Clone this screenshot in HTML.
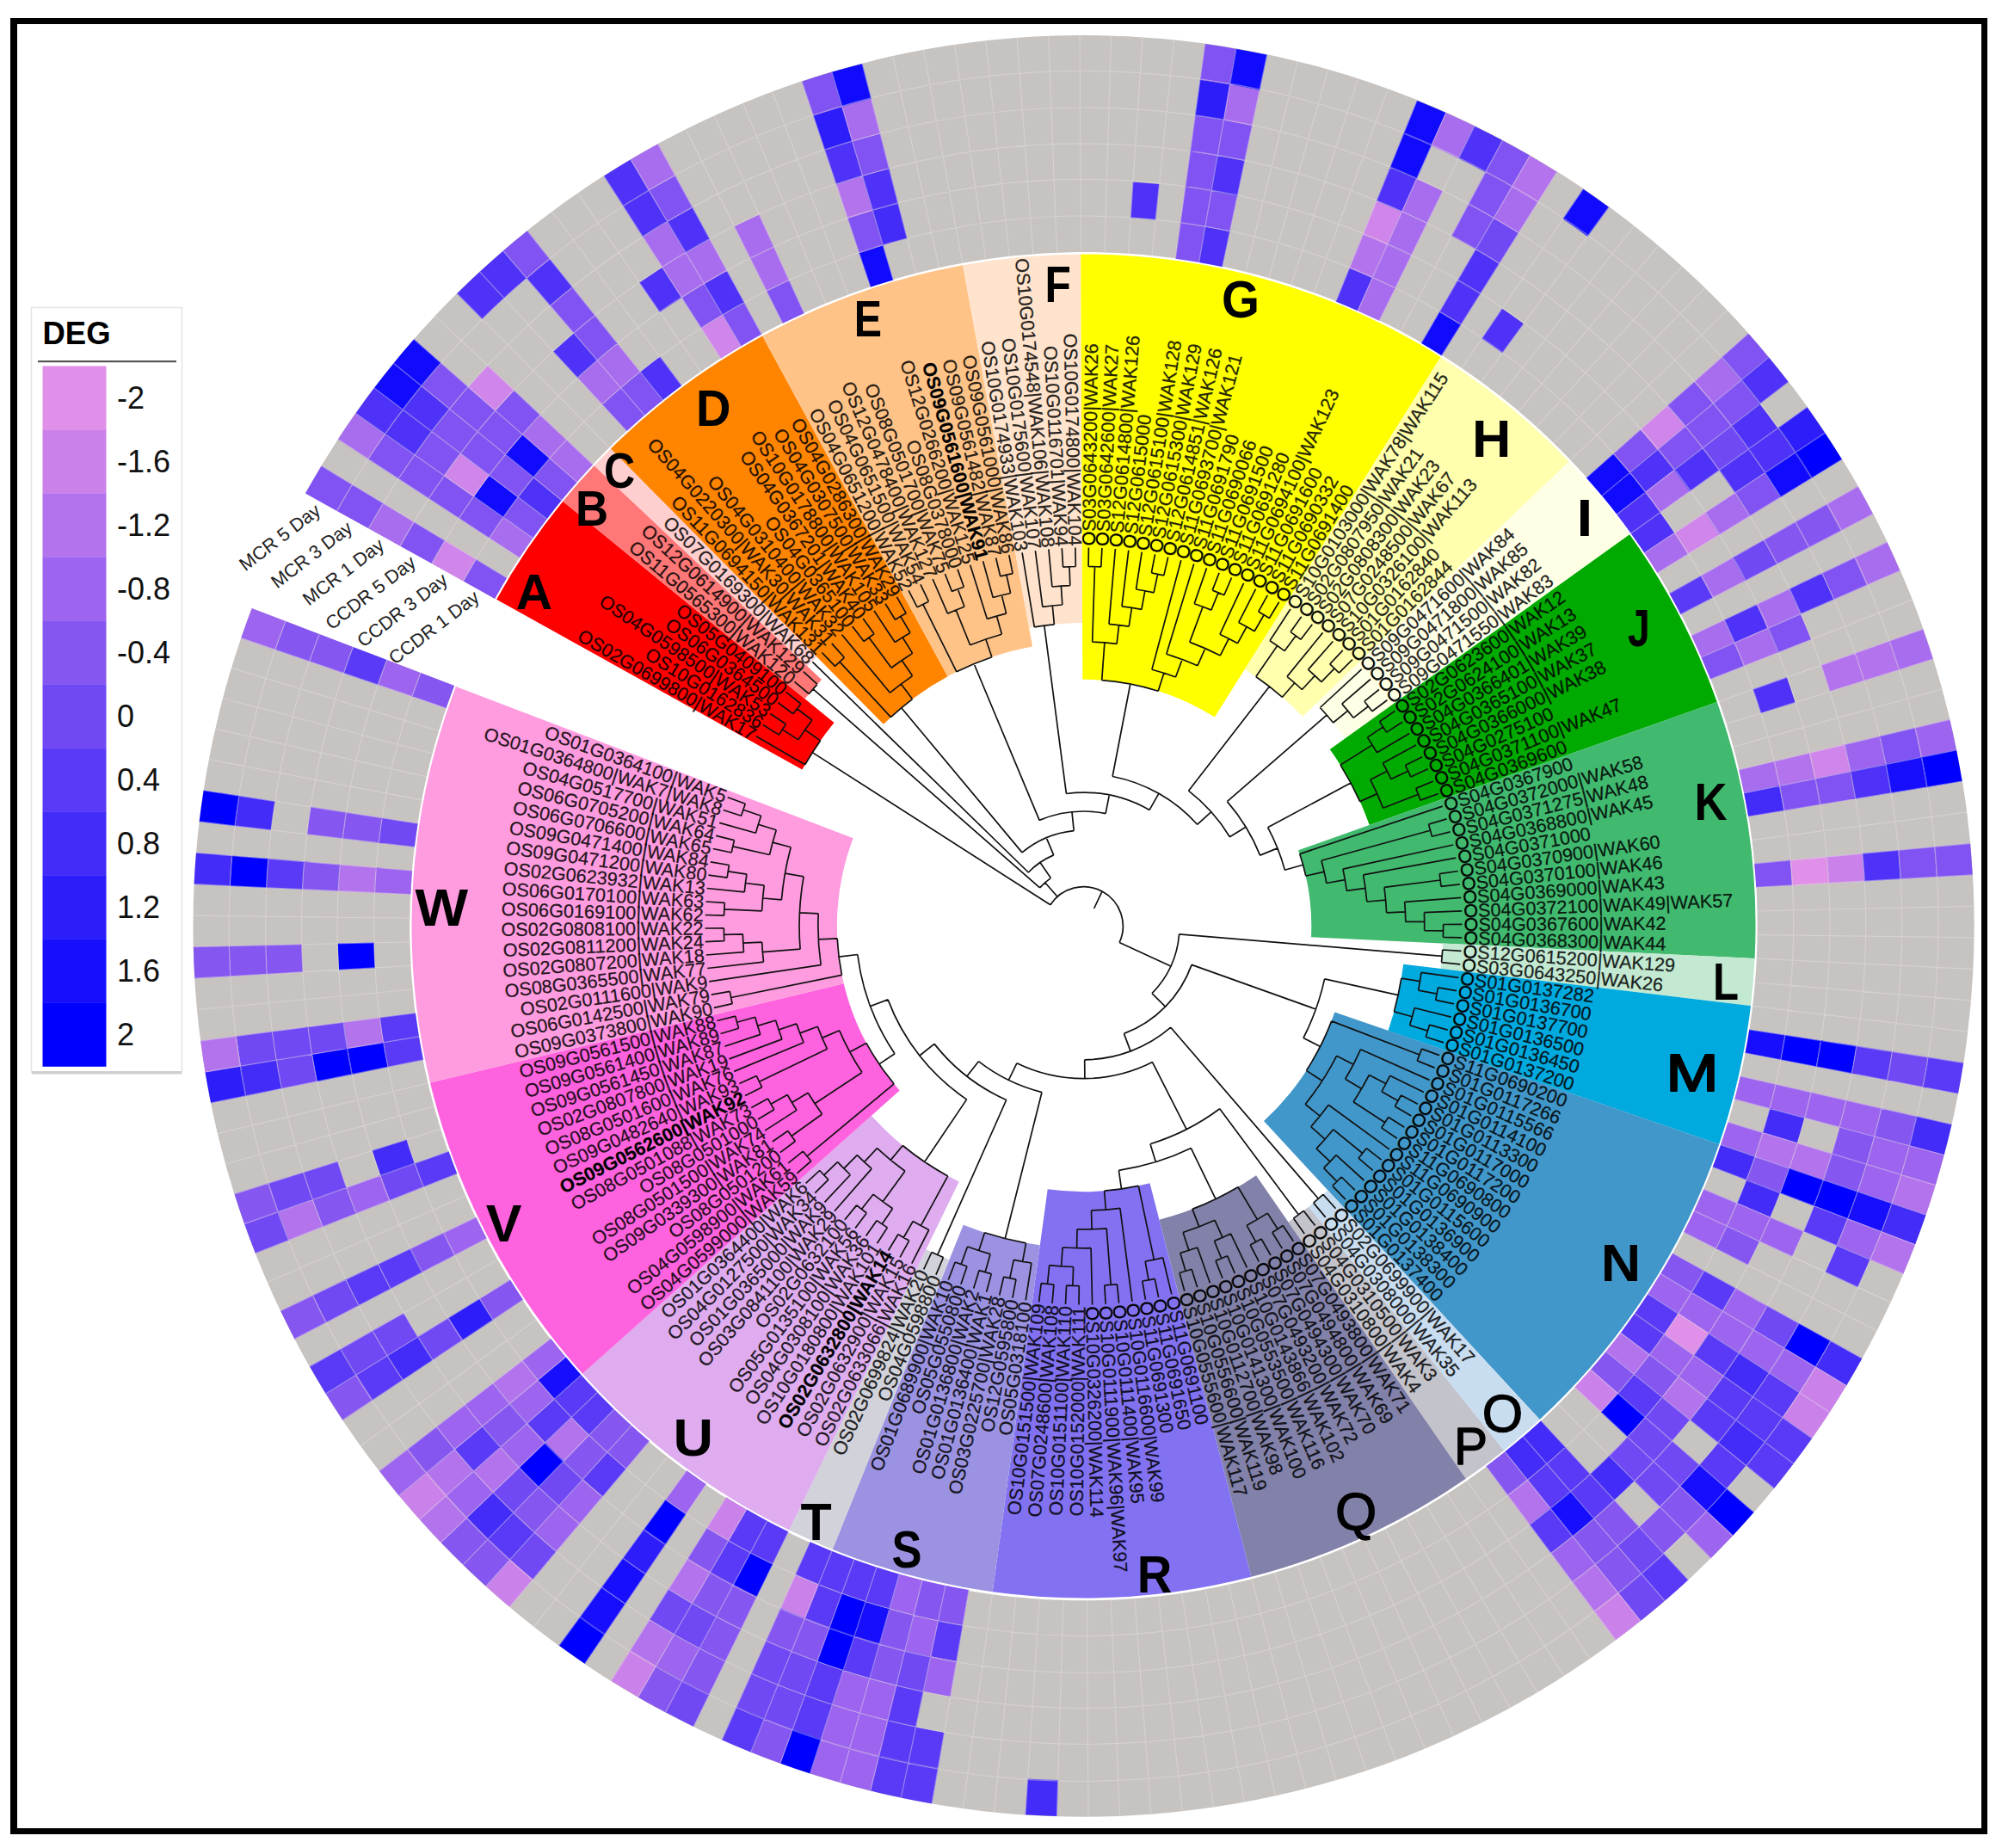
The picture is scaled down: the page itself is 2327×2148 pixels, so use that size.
<!DOCTYPE html>
<html><head><meta charset="utf-8"><title>WAK phylogeny heatmap</title>
<style>html,body{margin:0;padding:0;background:#fff}svg{display:block}</style></head>
<body>
<svg xmlns="http://www.w3.org/2000/svg" width="2327" height="2148" viewBox="0 0 2327 2148">
<rect width="2327" height="2148" fill="#fff"/>
<g shape-rendering="geometricPrecision">
<path d="M355.1 573.1A1035 1035 0 0 1 2197.6 1513.7L1969.2 1407.3A783 783 0 0 0 575.3 695.7Z" fill="#C7C3C1"/>
<path d="M2197.7 1513.6A1035 1035 0 0 1 292.6 707.3L528 797.2A783 783 0 0 0 1969.3 1407.2Z" fill="#C7C3C1"/>
<path d="M538.5 675.5A825 825 0 0 1 553.4 649.8L589.3 671.6A783 783 0 0 0 575.2 695.9Z" fill="#8153F2"/>
<path d="M501.8 655.1A867 867 0 0 1 517.4 628.1L553.4 649.8A825 825 0 0 0 538.5 675.5Z" fill="#CF85EA"/>
<path d="M465.1 634.7A909 909 0 0 1 481.5 606.4L517.4 628.1A867 867 0 0 0 501.8 655.1Z" fill="#8153F2"/>
<path d="M428.4 614.3A951 951 0 0 1 445.5 584.7L481.5 606.4A909 909 0 0 0 465.1 634.7Z" fill="#A86CEE"/>
<path d="M391.7 593.9A993 993 0 0 1 409.6 563L445.5 584.7A951 951 0 0 0 428.4 614.3Z" fill="#8153F2"/>
<path d="M355 573.5A1035 1035 0 0 1 373.7 541.2L409.6 563A993 993 0 0 0 391.7 593.9Z" fill="#8153F2"/>
<path d="M568.6 625.7A825 825 0 0 1 585.2 601.1L619.6 625.3A783 783 0 0 0 603.7 648.6Z" fill="#A86CEE"/>
<path d="M533.4 602.7A867 867 0 0 1 550.9 576.9L585.2 601.1A825 825 0 0 0 568.6 625.7Z" fill="#8153F2"/>
<path d="M498.2 579.8A909 909 0 0 1 516.6 552.7L550.9 576.9A867 867 0 0 0 533.4 602.7Z" fill="#8153F2"/>
<path d="M463 556.8A951 951 0 0 1 482.3 528.5L516.6 552.7A909 909 0 0 0 498.2 579.8Z" fill="#8153F2"/>
<path d="M427.9 533.9A993 993 0 0 1 447.9 504.3L482.3 528.5A951 951 0 0 0 463 556.8Z" fill="#8153F2"/>
<path d="M392.7 510.9A1035 1035 0 0 1 413.6 480.1L447.9 504.3A993 993 0 0 0 427.9 533.9Z" fill="#A86CEE"/>
<path d="M584.9 601.6A825 825 0 0 1 602.4 577.6L635.9 603A783 783 0 0 0 619.2 625.8Z" fill="#8153F2"/>
<path d="M550.6 577.4A867 867 0 0 1 569 552.2L602.4 577.6A825 825 0 0 0 584.9 601.6Z" fill="#110BFD"/>
<path d="M516.2 553.2A909 909 0 0 1 535.5 526.8L569 552.2A867 867 0 0 0 550.6 577.4Z" fill="#CF85EA"/>
<path d="M481.9 529.1A951 951 0 0 1 502.1 501.4L535.5 526.8A909 909 0 0 0 516.2 553.2Z" fill="#8153F2"/>
<path d="M447.5 504.9A993 993 0 0 1 468.6 476L502.1 501.4A951 951 0 0 0 481.9 529.1Z" fill="#4E32F7"/>
<path d="M413.2 480.7A1035 1035 0 0 1 435.2 450.6L468.6 476A993 993 0 0 0 447.5 504.9Z" fill="#4E32F7"/>
<path d="M602.1 578.1A825 825 0 0 1 620.4 554.8L653 581.3A783 783 0 0 0 635.5 603.5Z" fill="#4E32F7"/>
<path d="M568.6 552.7A867 867 0 0 1 587.9 528.2L620.4 554.8A825 825 0 0 0 602.1 578.1Z" fill="#8153F2"/>
<path d="M535.1 527.3A909 909 0 0 1 555.4 501.6L587.9 528.2A867 867 0 0 0 568.6 552.7Z" fill="#8153F2"/>
<path d="M501.7 502A951 951 0 0 1 522.8 475.1L555.4 501.6A909 909 0 0 0 535.1 527.3Z" fill="#8153F2"/>
<path d="M468.2 476.6A993 993 0 0 1 490.3 448.5L522.8 475.1A951 951 0 0 0 501.7 502Z" fill="#4E32F7"/>
<path d="M434.7 451.2A1035 1035 0 0 1 457.8 421.9L490.3 448.5A993 993 0 0 0 468.2 476.6Z" fill="#110BFD"/>
<path d="M620.1 555.2A825 825 0 0 1 639.2 532.5L670.8 560.2A783 783 0 0 0 652.6 581.7Z" fill="#8153F2"/>
<path d="M587.5 528.7A867 867 0 0 1 607.7 504.8L639.2 532.5A825 825 0 0 0 620.1 555.2Z" fill="#110BFD"/>
<path d="M555 502.1A909 909 0 0 1 576.1 477.1L607.7 504.8A867 867 0 0 0 587.5 528.7Z" fill="#8153F2"/>
<path d="M522.4 475.6A951 951 0 0 1 544.5 449.4L576.1 477.1A909 909 0 0 0 555 502.1Z" fill="#8153F2"/>
<path d="M489.9 449A993 993 0 0 1 512.9 421.8L544.5 449.4A951 951 0 0 0 522.4 475.6Z" fill="#8153F2"/>
<path d="M457.3 422.5A1035 1035 0 0 1 481.4 394.1L512.9 421.8A993 993 0 0 0 489.9 449Z" fill="#110BFD"/>
<path d="M638.9 533A825 825 0 0 1 658.8 511L689.4 539.8A783 783 0 0 0 670.5 560.6Z" fill="#A86CEE"/>
<path d="M607.3 505.3A867 867 0 0 1 628.2 482.2L658.8 511A825 825 0 0 0 638.9 533Z" fill="#A86CEE"/>
<path d="M575.7 477.6A909 909 0 0 1 597.7 453.4L628.2 482.2A867 867 0 0 0 607.3 505.3Z" fill="#8153F2"/>
<path d="M544.1 449.9A951 951 0 0 1 567.1 424.6L597.7 453.4A909 909 0 0 0 575.7 477.6Z" fill="#CF85EA"/>
<path d="M530.9 341.4A1035 1035 0 0 1 557.8 315.7L586.3 346.5A993 993 0 0 0 560.5 371.2Z" fill="#4E32F7"/>
<path d="M699.8 470.4A825 825 0 0 1 721.9 450.7L749.3 482.5A783 783 0 0 0 728.3 501.3Z" fill="#8153F2"/>
<path d="M671.3 439.6A867 867 0 0 1 694.6 418.8L721.9 450.7A825 825 0 0 0 699.8 470.4Z" fill="#A86CEE"/>
<path d="M642.8 408.7A909 909 0 0 1 667.2 387L694.6 418.8A867 867 0 0 0 671.3 439.6Z" fill="#4E32F7"/>
<path d="M557.3 316.2A1035 1035 0 0 1 585.1 291.4L612.5 323.2A993 993 0 0 0 585.8 347Z" fill="#4E32F7"/>
<path d="M721.5 451.1A825 825 0 0 1 744.4 432.1L770.6 464.9A783 783 0 0 0 748.9 482.9Z" fill="#8153F2"/>
<path d="M694.1 419.2A867 867 0 0 1 718.1 399.3L744.4 432.1A825 825 0 0 0 721.5 451.1Z" fill="#A86CEE"/>
<path d="M666.7 387.4A909 909 0 0 1 691.9 366.5L718.1 399.3A867 867 0 0 0 694.1 419.2Z" fill="#8153F2"/>
<path d="M639.3 355.5A951 951 0 0 1 665.7 333.7L691.9 366.5A909 909 0 0 0 666.7 387.4Z" fill="#8153F2"/>
<path d="M611.9 323.7A993 993 0 0 1 639.4 300.9L665.7 333.7A951 951 0 0 0 639.3 355.5Z" fill="#4E32F7"/>
<path d="M584.6 291.8A1035 1035 0 0 1 613.2 268.1L639.4 300.9A993 993 0 0 0 611.9 323.7Z" fill="#8153F2"/>
<path d="M743.9 432.5A825 825 0 0 1 767.4 414.3L792.5 448A783 783 0 0 0 770.2 465.3Z" fill="#4E32F7"/>
<path d="M742.9 328.6A909 909 0 0 1 770.1 310.5L792.7 345.9A867 867 0 0 0 766.7 363.2Z" fill="#4E32F7"/>
<path d="M814.8 381.6A825 825 0 0 1 840.1 366L861.5 402.2A783 783 0 0 0 837.5 417Z" fill="#CF85EA"/>
<path d="M792.2 346.2A867 867 0 0 1 818.8 329.9L840.1 366A825 825 0 0 0 814.8 381.6Z" fill="#8153F2"/>
<path d="M769.6 310.8A909 909 0 0 1 797.4 293.7L818.8 329.9A867 867 0 0 0 792.2 346.2Z" fill="#A86CEE"/>
<path d="M746.9 275.5A951 951 0 0 1 776.1 257.5L797.4 293.7A909 909 0 0 0 769.6 310.8Z" fill="#A86CEE"/>
<path d="M724.3 240.1A993 993 0 0 1 754.7 221.4L776.1 257.5A951 951 0 0 0 746.9 275.5Z" fill="#4E32F7"/>
<path d="M701.7 204.7A1035 1035 0 0 1 733.4 185.2L754.7 221.4A993 993 0 0 0 724.3 240.1Z" fill="#4E32F7"/>
<path d="M839.6 366.3A825 825 0 0 1 865.5 351.7L885.5 388.6A783 783 0 0 0 861 402.5Z" fill="#8153F2"/>
<path d="M818.3 330.2A867 867 0 0 1 845.4 314.8L865.5 351.7A825 825 0 0 0 839.6 366.3Z" fill="#4E32F7"/>
<path d="M796.9 294A909 909 0 0 1 825.3 277.9L845.4 314.8A867 867 0 0 0 818.3 330.2Z" fill="#A86CEE"/>
<path d="M775.5 257.9A951 951 0 0 1 805.3 241L825.3 277.9A909 909 0 0 0 796.9 294Z" fill="#4E32F7"/>
<path d="M754.1 221.7A993 993 0 0 1 785.2 204.1L805.3 241A951 951 0 0 0 775.5 257.9Z" fill="#8153F2"/>
<path d="M732.8 185.6A1035 1035 0 0 1 765.2 167.2L785.2 204.1A993 993 0 0 0 754.1 221.7Z" fill="#A86CEE"/>
<path d="M890.8 338.5A825 825 0 0 1 917.5 325.7L935 363.9A783 783 0 0 0 909.5 376.1Z" fill="#8153F2"/>
<path d="M872 300.9A867 867 0 0 1 900.1 287.5L917.5 325.7A825 825 0 0 0 890.8 338.5Z" fill="#A86CEE"/>
<path d="M853.2 263.3A909 909 0 0 1 882.7 249.3L900.1 287.5A867 867 0 0 0 872 300.9Z" fill="#A86CEE"/>
<path d="M998.3 294A825 825 0 0 1 1026.6 285.1L1038.4 325.4A783 783 0 0 0 1011.6 333.8Z" fill="#110BFD"/>
<path d="M985 254.1A867 867 0 0 1 1014.7 244.8L1026.6 285.1A825 825 0 0 0 998.3 294Z" fill="#8153F2"/>
<path d="M971.7 214.3A909 909 0 0 1 1002.9 204.5L1014.7 244.8A867 867 0 0 0 985 254.1Z" fill="#B373ED"/>
<path d="M958.4 174.4A951 951 0 0 1 991 164.2L1002.9 204.5A909 909 0 0 0 971.7 214.3Z" fill="#4E32F7"/>
<path d="M945.1 134.6A993 993 0 0 1 979.1 123.9L991 164.2A951 951 0 0 0 958.4 174.4Z" fill="#2D1DFA"/>
<path d="M931.8 94.8A1035 1035 0 0 1 967.3 83.6L979.1 123.9A993 993 0 0 0 945.1 134.6Z" fill="#8153F2"/>
<path d="M1014.1 244.9A867 867 0 0 1 1044.2 236.7L1054.6 277.3A825 825 0 0 0 1026 285.2Z" fill="#432BF8"/>
<path d="M1002.2 204.7A909 909 0 0 1 1033.8 196L1044.2 236.7A867 867 0 0 0 1014.1 244.9Z" fill="#4E32F7"/>
<path d="M990.4 164.4A951 951 0 0 1 1023.4 155.3L1033.8 196A909 909 0 0 0 1002.2 204.7Z" fill="#8153F2"/>
<path d="M978.5 124.1A993 993 0 0 1 1012.9 114.6L1023.4 155.3A951 951 0 0 0 990.4 164.4Z" fill="#A86CEE"/>
<path d="M966.6 83.8A1035 1035 0 0 1 1002.5 73.9L1012.9 114.6A993 993 0 0 0 978.5 124.1Z" fill="#110BFD"/>
<path d="M1316.6 211.4A867 867 0 0 1 1347.7 214L1343.5 255.8A825 825 0 0 0 1313.9 253.3Z" fill="#4E32F7"/>
<path d="M1371.8 259.2A825 825 0 0 1 1401.1 263.7L1393.9 305.1A783 783 0 0 0 1366.1 300.8Z" fill="#8153F2"/>
<path d="M1377.5 217.6A867 867 0 0 1 1408.3 222.4L1401.1 263.7A825 825 0 0 0 1371.8 259.2Z" fill="#8153F2"/>
<path d="M1383.2 176A909 909 0 0 1 1415.5 181L1408.3 222.4A867 867 0 0 0 1377.5 217.6Z" fill="#8153F2"/>
<path d="M1388.9 134.3A951 951 0 0 1 1422.7 139.6L1415.5 181A909 909 0 0 0 1383.2 176Z" fill="#8153F2"/>
<path d="M1394.7 92.7A993 993 0 0 1 1430 98.2L1422.7 139.6A951 951 0 0 0 1388.9 134.3Z" fill="#2D1DFA"/>
<path d="M1400.4 51.1A1035 1035 0 0 1 1437.2 56.9L1430 98.2A993 993 0 0 0 1394.7 92.7Z" fill="#8153F2"/>
<path d="M1400.6 263.6A825 825 0 0 1 1429.7 269.2L1421 310.3A783 783 0 0 0 1393.4 305Z" fill="#4E32F7"/>
<path d="M1407.7 222.3A867 867 0 0 1 1438.4 228.2L1429.7 269.2A825 825 0 0 0 1400.6 263.6Z" fill="#8153F2"/>
<path d="M1414.9 180.9A909 909 0 0 1 1447 187.1L1438.4 228.2A867 867 0 0 0 1407.7 222.3Z" fill="#4E32F7"/>
<path d="M1422.1 139.5A951 951 0 0 1 1455.7 146L1447 187.1A909 909 0 0 0 1414.9 180.9Z" fill="#8153F2"/>
<path d="M1429.3 98.1A993 993 0 0 1 1464.4 104.9L1455.7 146A951 951 0 0 0 1422.1 139.5Z" fill="#A86CEE"/>
<path d="M1436.5 56.7A1035 1035 0 0 1 1473 63.8L1464.4 104.9A993 993 0 0 0 1429.3 98.1Z" fill="#110BFD"/>
<path d="M1568.2 311.4A825 825 0 0 1 1595.5 323L1578.4 361.4A783 783 0 0 0 1552.5 350.4Z" fill="#4E32F7"/>
<path d="M1583.9 272.5A867 867 0 0 1 1612.7 284.7L1595.5 323A825 825 0 0 0 1568.2 311.4Z" fill="#B373ED"/>
<path d="M1599.7 233.5A909 909 0 0 1 1629.8 246.3L1612.7 284.7A867 867 0 0 0 1583.9 272.5Z" fill="#CF85EA"/>
<path d="M1615.4 194.6A951 951 0 0 1 1646.9 208L1629.8 246.3A909 909 0 0 0 1599.7 233.5Z" fill="#4E32F7"/>
<path d="M1631.1 155.6A993 993 0 0 1 1664 169.6L1646.9 208A951 951 0 0 0 1615.4 194.6Z" fill="#110BFD"/>
<path d="M1646.8 116.7A1035 1035 0 0 1 1681.1 131.3L1664 169.6A993 993 0 0 0 1631.1 155.6Z" fill="#110BFD"/>
<path d="M1595 322.8A825 825 0 0 1 1621.9 335.4L1603.5 373.1A783 783 0 0 0 1577.9 361.2Z" fill="#A86CEE"/>
<path d="M1612.1 284.4A867 867 0 0 1 1640.4 297.6L1621.9 335.4A825 825 0 0 0 1595 322.8Z" fill="#A86CEE"/>
<path d="M1629.2 246.1A909 909 0 0 1 1658.8 259.9L1640.4 297.6A867 867 0 0 0 1612.1 284.4Z" fill="#A86CEE"/>
<path d="M1646.3 207.7A951 951 0 0 1 1677.3 222.2L1658.8 259.9A909 909 0 0 0 1629.2 246.1Z" fill="#A86CEE"/>
<path d="M1680.4 131A1035 1035 0 0 1 1714.2 146.7L1695.7 184.4A993 993 0 0 0 1663.3 169.3Z" fill="#A86CEE"/>
<path d="M1713.5 146.4A1035 1035 0 0 1 1746.7 163.3L1726.9 200.4A993 993 0 0 0 1695.1 184.1Z" fill="#4E32F7"/>
<path d="M1706.6 237.1A951 951 0 0 1 1736.5 253.8L1715.4 290.1A909 909 0 0 0 1686.8 274.2Z" fill="#8153F2"/>
<path d="M1726.3 200.1A993 993 0 0 1 1757.5 217.4L1736.5 253.8A951 951 0 0 0 1706.6 237.1Z" fill="#8153F2"/>
<path d="M1746.1 163A1035 1035 0 0 1 1778.6 181.1L1757.5 217.4A993 993 0 0 0 1726.3 200.1Z" fill="#8153F2"/>
<path d="M1672.8 362.5A825 825 0 0 1 1698.2 377.8L1675.9 413.4A783 783 0 0 0 1651.7 398.8Z" fill="#110BFD"/>
<path d="M1693.8 326.1A867 867 0 0 1 1720.5 342.2L1698.2 377.8A825 825 0 0 0 1672.8 362.5Z" fill="#4E32F7"/>
<path d="M1714.9 289.8A909 909 0 0 1 1742.9 306.7L1720.5 342.2A867 867 0 0 0 1693.8 326.1Z" fill="#4E32F7"/>
<path d="M1735.9 253.4A951 951 0 0 1 1765.2 271.1L1742.9 306.7A909 909 0 0 0 1714.9 289.8Z" fill="#7048F4"/>
<path d="M1756.9 217.1A993 993 0 0 1 1787.5 235.5L1765.2 271.1A951 951 0 0 0 1735.9 253.4Z" fill="#A86CEE"/>
<path d="M1778 180.7A1035 1035 0 0 1 1809.9 200L1787.5 235.5A993 993 0 0 0 1756.9 217.1Z" fill="#B373ED"/>
<path d="M1745.7 358.6A867 867 0 0 1 1771.2 376.6L1746.4 410.5A825 825 0 0 0 1722.1 393.4Z" fill="#4E32F7"/>
<path d="M1839.9 219.5A1035 1035 0 0 1 1870.3 241L1845.5 274.9A993 993 0 0 0 1816.3 254.3Z" fill="#110BFD"/>
<path d="M1875.1 527.2A825 825 0 0 1 1894.4 549.8L1862.1 576.6A783 783 0 0 0 1843.7 555.2Z" fill="#110BFD"/>
<path d="M1906.4 499.3A867 867 0 0 1 1926.8 522.9L1894.4 549.8A825 825 0 0 0 1875.1 527.2Z" fill="#8153F2"/>
<path d="M1937.8 471.3A909 909 0 0 1 1959.1 496.1L1926.8 522.9A867 867 0 0 0 1906.4 499.3Z" fill="#CF85EA"/>
<path d="M1969.1 443.4A951 951 0 0 1 1991.4 469.3L1959.1 496.1A909 909 0 0 0 1937.8 471.3Z" fill="#8153F2"/>
<path d="M2000.4 415.4A993 993 0 0 1 2023.7 442.5L1991.4 469.3A951 951 0 0 0 1969.1 443.4Z" fill="#A86CEE"/>
<path d="M2031.8 387.4A1035 1035 0 0 1 2056.1 415.7L2023.7 442.5A993 993 0 0 0 2000.4 415.4Z" fill="#8153F2"/>
<path d="M1894.1 549.3A825 825 0 0 1 1912.6 572.5L1879.4 598.1A783 783 0 0 0 1861.8 576.1Z" fill="#110BFD"/>
<path d="M1926.4 522.5A867 867 0 0 1 1945.9 546.8L1912.6 572.5A825 825 0 0 0 1894.1 549.3Z" fill="#4E32F7"/>
<path d="M1958.7 495.6A909 909 0 0 1 1979.1 521.2L1945.9 546.8A867 867 0 0 0 1926.4 522.5Z" fill="#8153F2"/>
<path d="M1991 468.8A951 951 0 0 1 2012.4 495.5L1979.1 521.2A909 909 0 0 0 1958.7 495.6Z" fill="#8153F2"/>
<path d="M2023.3 442A993 993 0 0 1 2045.6 469.8L2012.4 495.5A951 951 0 0 0 1991 468.8Z" fill="#8153F2"/>
<path d="M2055.6 415.1A1035 1035 0 0 1 2078.9 444.2L2045.6 469.8A993 993 0 0 0 2023.3 442Z" fill="#4E32F7"/>
<path d="M1912.3 572A825 825 0 0 1 1930 595.8L1895.9 620.3A783 783 0 0 0 1879.1 597.7Z" fill="#4E32F7"/>
<path d="M1945.5 546.3A867 867 0 0 1 1964.1 571.4L1930 595.8A825 825 0 0 0 1912.3 572Z" fill="#A86CEE"/>
<path d="M1978.8 520.7A909 909 0 0 1 1998.3 546.9L1964.1 571.4A867 867 0 0 0 1945.5 546.3Z" fill="#4E32F7"/>
<path d="M2012 495A951 951 0 0 1 2032.4 522.4L1998.3 546.9A909 909 0 0 0 1978.8 520.7Z" fill="#7048F4"/>
<path d="M2045.2 469.3A993 993 0 0 1 2066.6 498L2032.4 522.4A951 951 0 0 0 2012 495Z" fill="#4E32F7"/>
<path d="M1929.7 595.4A825 825 0 0 1 1946.6 619.8L1911.6 643A783 783 0 0 0 1895.6 619.9Z" fill="#4E32F7"/>
<path d="M2032 521.9A951 951 0 0 1 2051.5 550L2016.5 573.3A909 909 0 0 0 1997.9 546.4Z" fill="#4E32F7"/>
<path d="M2066.1 497.4A993 993 0 0 1 2086.5 526.8L2051.5 550A951 951 0 0 0 2032 521.9Z" fill="#4E32F7"/>
<path d="M2100.3 472.9A1035 1035 0 0 1 2121.4 503.5L2086.5 526.8A993 993 0 0 0 2066.1 497.4Z" fill="#2D1DFA"/>
<path d="M1946.2 619.3A825 825 0 0 1 1962.2 644.3L1926.5 666.3A783 783 0 0 0 1911.3 642.6Z" fill="#A86CEE"/>
<path d="M1981.2 596A867 867 0 0 1 1998 622.3L1962.2 644.3A825 825 0 0 0 1946.2 619.3Z" fill="#CF85EA"/>
<path d="M2016.2 572.8A909 909 0 0 1 2033.8 600.3L1998 622.3A867 867 0 0 0 1981.2 596Z" fill="#A86CEE"/>
<path d="M2051.1 549.5A951 951 0 0 1 2069.6 578.3L2033.8 600.3A909 909 0 0 0 2016.2 572.8Z" fill="#8153F2"/>
<path d="M2086.1 526.2A993 993 0 0 1 2105.3 556.3L2069.6 578.3A951 951 0 0 0 2051.1 549.5Z" fill="#110BFD"/>
<path d="M2121 502.9A1035 1035 0 0 1 2141.1 534.3L2105.3 556.3A993 993 0 0 0 2086.1 526.2Z" fill="#0000FF"/>
<path d="M1976.8 668.9A825 825 0 0 1 1991 694.9L1953.7 714.4A783 783 0 0 0 1940.2 689.6Z" fill="#5A3AF6"/>
<path d="M2013.3 648.1A867 867 0 0 1 2028.2 675.5L1991 694.9A825 825 0 0 0 1976.8 668.9Z" fill="#A86CEE"/>
<path d="M2049.8 627.4A909 909 0 0 1 2065.4 656.1L2028.2 675.5A867 867 0 0 0 2013.3 648.1Z" fill="#7048F4"/>
<path d="M2086.3 606.6A951 951 0 0 1 2102.7 636.7L2065.4 656.1A909 909 0 0 0 2049.8 627.4Z" fill="#8656F1"/>
<path d="M2122.8 585.9A993 993 0 0 1 2139.9 617.2L2102.7 636.7A951 951 0 0 0 2086.3 606.6Z" fill="#8656F1"/>
<path d="M2159.3 565.1A1035 1035 0 0 1 2177.2 597.8L2139.9 617.2A993 993 0 0 0 2122.8 585.9Z" fill="#A86CEE"/>
<path d="M2003.7 720.5A825 825 0 0 1 2016.1 747.5L1977.5 764.2A783 783 0 0 0 1965.8 738.6Z" fill="#A86CEE"/>
<path d="M2041.6 702.3A867 867 0 0 1 2054.6 730.7L2016.1 747.5A825 825 0 0 0 2003.7 720.5Z" fill="#4E32F7"/>
<path d="M2079.5 684.2A909 909 0 0 1 2093.1 714L2054.6 730.7A867 867 0 0 0 2041.6 702.3Z" fill="#A86CEE"/>
<path d="M2117.4 666.1A951 951 0 0 1 2131.6 697.2L2093.1 714A909 909 0 0 0 2079.5 684.2Z" fill="#4E32F7"/>
<path d="M2155.3 648A993 993 0 0 1 2170.1 680.5L2131.6 697.2A951 951 0 0 0 2117.4 666.1Z" fill="#8153F2"/>
<path d="M2193.2 629.8A1035 1035 0 0 1 2208.6 663.7L2170.1 680.5A993 993 0 0 0 2155.3 648Z" fill="#A86CEE"/>
<path d="M2015.8 746.9A825 825 0 0 1 2027.2 774.4L1988.1 789.8A783 783 0 0 0 1977.3 763.7Z" fill="#8153F2"/>
<path d="M2054.3 730.2A867 867 0 0 1 2066.3 759L2027.2 774.4A825 825 0 0 0 2015.8 746.9Z" fill="#A86CEE"/>
<path d="M2092.8 713.4A909 909 0 0 1 2105.4 743.6L2066.3 759A867 867 0 0 0 2054.3 730.2Z" fill="#8153F2"/>
<path d="M2076.8 787.1A867 867 0 0 1 2086.7 816.7L2046.6 829.3A825 825 0 0 0 2037.2 801.1Z" fill="#4E32F7"/>
<path d="M2155.9 759A951 951 0 0 1 2166.8 791.5L2126.7 804.1A909 909 0 0 0 2116.4 773.1Z" fill="#B373ED"/>
<path d="M2195.5 745A993 993 0 0 1 2206.9 778.9L2166.8 791.5A951 951 0 0 0 2155.9 759Z" fill="#B373ED"/>
<path d="M2235.1 731A1035 1035 0 0 1 2246.9 766.3L2206.9 778.9A993 993 0 0 0 2195.5 745Z" fill="#A86CEE"/>
<path d="M2061.9 884.8A825 825 0 0 1 2068.3 913.8L2027.1 922.1A783 783 0 0 0 2021.1 894.6Z" fill="#A86CEE"/>
<path d="M2102.8 875.1A867 867 0 0 1 2109.5 905.5L2068.3 913.8A825 825 0 0 0 2061.9 884.8Z" fill="#B373ED"/>
<path d="M2143.6 865.3A909 909 0 0 1 2150.7 897.2L2109.5 905.5A867 867 0 0 0 2102.8 875.1Z" fill="#CF85EA"/>
<path d="M2184.5 855.5A951 951 0 0 1 2191.8 889L2150.7 897.2A909 909 0 0 0 2143.6 865.3Z" fill="#9D65EF"/>
<path d="M2225.3 845.8A993 993 0 0 1 2233 880.7L2191.8 889A951 951 0 0 0 2184.5 855.5Z" fill="#8153F2"/>
<path d="M2266.2 836A1035 1035 0 0 1 2274.2 872.4L2233 880.7A993 993 0 0 0 2225.3 845.8Z" fill="#9D65EF"/>
<path d="M2068.2 913.2A825 825 0 0 1 2073.5 942.4L2032.1 949.3A783 783 0 0 0 2027 921.6Z" fill="#432BF8"/>
<path d="M2109.4 904.9A867 867 0 0 1 2115 935.6L2073.5 942.4A825 825 0 0 0 2068.2 913.2Z" fill="#8153F2"/>
<path d="M2150.5 896.6A909 909 0 0 1 2156.4 928.8L2115 935.6A867 867 0 0 0 2109.4 904.9Z" fill="#8153F2"/>
<path d="M2191.7 888.3A951 951 0 0 1 2197.9 922L2156.4 928.8A909 909 0 0 0 2150.5 896.6Z" fill="#4E32F7"/>
<path d="M2232.9 880A993 993 0 0 1 2239.3 915.2L2197.9 922A951 951 0 0 0 2191.7 888.3Z" fill="#160EFD"/>
<path d="M2274 871.7A1035 1035 0 0 1 2280.7 908.3L2239.3 915.2A993 993 0 0 0 2232.9 880Z" fill="#0000FF"/>
<path d="M2080.9 999.6A825 825 0 0 1 2083.1 1029.2L2041.2 1031.6A783 783 0 0 0 2039.1 1003.5Z" fill="#8153F2"/>
<path d="M2122.7 995.7A867 867 0 0 1 2125.1 1026.8L2083.1 1029.2A825 825 0 0 0 2080.9 999.6Z" fill="#E090E8"/>
<path d="M2164.5 991.8A909 909 0 0 1 2167 1024.4L2125.1 1026.8A867 867 0 0 0 2122.7 995.7Z" fill="#CA82EA"/>
<path d="M2206.4 987.9A951 951 0 0 1 2208.9 1022L2167 1024.4A909 909 0 0 0 2164.5 991.8Z" fill="#4E32F7"/>
<path d="M2248.2 984A993 993 0 0 1 2250.9 1019.6L2208.9 1022A951 951 0 0 0 2206.4 987.9Z" fill="#8153F2"/>
<path d="M2290 980A1035 1035 0 0 1 2292.8 1017.2L2250.9 1019.6A993 993 0 0 0 2248.2 984Z" fill="#8153F2"/>
<path d="M2074.8 1202.8A825 825 0 0 1 2069.7 1232L2028.5 1224.1A783 783 0 0 0 2033.3 1196.4Z" fill="#160EFD"/>
<path d="M2116.3 1209.2A867 867 0 0 1 2111 1240L2069.7 1232A825 825 0 0 0 2074.8 1202.8Z" fill="#0000FF"/>
<path d="M2157.8 1215.6A909 909 0 0 1 2152.2 1247.9L2111 1240A867 867 0 0 0 2116.3 1209.2Z" fill="#0000FF"/>
<path d="M2199.3 1222.1A951 951 0 0 1 2193.4 1255.8L2152.2 1247.9A909 909 0 0 0 2157.8 1215.6Z" fill="#5A3AF6"/>
<path d="M2240.8 1228.5A993 993 0 0 1 2234.7 1263.7L2193.4 1255.8A951 951 0 0 0 2199.3 1222.1Z" fill="#7048F4"/>
<path d="M2282.3 1234.9A1035 1035 0 0 1 2275.9 1271.6L2234.7 1263.7A993 993 0 0 0 2240.8 1228.5Z" fill="#5A3AF6"/>
<path d="M2063.8 1260A825 825 0 0 1 2056.7 1288.8L2016.1 1278A783 783 0 0 0 2022.9 1250.6Z" fill="#9D65EF"/>
<path d="M2104.8 1269.3A867 867 0 0 1 2097.3 1299.6L2056.7 1288.8A825 825 0 0 0 2063.8 1260Z" fill="#9D65EF"/>
<path d="M2145.7 1278.6A909 909 0 0 1 2137.9 1310.4L2097.3 1299.6A867 867 0 0 0 2104.8 1269.3Z" fill="#9D65EF"/>
<path d="M2186.7 1288A951 951 0 0 1 2178.5 1321.2L2137.9 1310.4A909 909 0 0 0 2145.7 1278.6Z" fill="#9D65EF"/>
<path d="M2227.6 1297.3A993 993 0 0 1 2219.1 1332L2178.5 1321.2A951 951 0 0 0 2186.7 1288Z" fill="#8656F1"/>
<path d="M2268.6 1306.7A1035 1035 0 0 1 2259.6 1342.8L2219.1 1332A993 993 0 0 0 2227.6 1297.3Z" fill="#432BF8"/>
<path d="M2097.5 1299A867 867 0 0 1 2088.9 1329L2048.7 1316.8A825 825 0 0 0 2056.9 1288.2Z" fill="#432BF8"/>
<path d="M2178.6 1320.6A951 951 0 0 1 2169.3 1353.5L2129.1 1341.2A909 909 0 0 0 2138.1 1309.8Z" fill="#8656F1"/>
<path d="M2219.2 1331.3A993 993 0 0 1 2209.5 1365.7L2169.3 1353.5A951 951 0 0 0 2178.6 1320.6Z" fill="#9D65EF"/>
<path d="M2259.8 1342.1A1035 1035 0 0 1 2249.6 1377.9L2209.5 1365.7A993 993 0 0 0 2219.2 1331.3Z" fill="#9D65EF"/>
<path d="M2048.9 1316.2A825 825 0 0 1 2039.8 1344.5L2000 1330.8A783 783 0 0 0 2008.7 1304Z" fill="#9D65EF"/>
<path d="M2089.1 1328.4A867 867 0 0 1 2079.5 1358.1L2039.8 1344.5A825 825 0 0 0 2048.9 1316.2Z" fill="#B373ED"/>
<path d="M2129.3 1340.6A909 909 0 0 1 2119.2 1371.8L2079.5 1358.1A867 867 0 0 0 2089.1 1328.4Z" fill="#B373ED"/>
<path d="M2169.5 1352.8A951 951 0 0 1 2158.9 1385.4L2119.2 1371.8A909 909 0 0 0 2129.3 1340.6Z" fill="#8656F1"/>
<path d="M2209.7 1365A993 993 0 0 1 2198.7 1399L2158.9 1385.4A951 951 0 0 0 2169.5 1352.8Z" fill="#9D65EF"/>
<path d="M2249.8 1377.2A1035 1035 0 0 1 2238.4 1412.7L2198.7 1399A993 993 0 0 0 2209.7 1365Z" fill="#B373ED"/>
<path d="M2040 1343.9A825 825 0 0 1 2029.8 1371.8L1990.6 1356.8A783 783 0 0 0 2000.2 1330.3Z" fill="#432BF8"/>
<path d="M2079.7 1357.5A867 867 0 0 1 2069 1386.9L2029.8 1371.8A825 825 0 0 0 2040 1343.9Z" fill="#8656F1"/>
<path d="M2119.4 1371.2A909 909 0 0 1 2108.3 1401.9L2069 1386.9A867 867 0 0 0 2079.7 1357.5Z" fill="#0000FF"/>
<path d="M2159.1 1384.8A951 951 0 0 1 2147.5 1416.9L2108.3 1401.9A909 909 0 0 0 2119.4 1371.2Z" fill="#0000FF"/>
<path d="M2198.9 1398.4A993 993 0 0 1 2186.7 1432L2147.5 1416.9A951 951 0 0 0 2159.1 1384.8Z" fill="#160EFD"/>
<path d="M2238.6 1412A1035 1035 0 0 1 2225.9 1447L2186.7 1432A993 993 0 0 0 2198.9 1398.4Z" fill="#432BF8"/>
<path d="M2069.3 1386.3A867 867 0 0 1 2057.6 1415.2L2018.9 1398.8A825 825 0 0 0 2030 1371.3Z" fill="#432BF8"/>
<path d="M2147.7 1416.3A951 951 0 0 1 2134.9 1448.1L2096.3 1431.6A909 909 0 0 0 2108.5 1401.3Z" fill="#5A3AF6"/>
<path d="M2186.9 1431.3A993 993 0 0 1 2173.6 1464.5L2134.9 1448.1A951 951 0 0 0 2147.7 1416.3Z" fill="#9D65EF"/>
<path d="M2226.2 1446.3A1035 1035 0 0 1 2212.2 1480.9L2173.6 1464.5A993 993 0 0 0 2186.9 1431.3Z" fill="#B373ED"/>
<path d="M2019.2 1398.3A825 825 0 0 1 2007.1 1425.4L1969 1407.7A783 783 0 0 0 1980.5 1381.9Z" fill="#9D65EF"/>
<path d="M2057.8 1414.7A867 867 0 0 1 2045.1 1443.2L2007.1 1425.4A825 825 0 0 0 2019.2 1398.3Z" fill="#9D65EF"/>
<path d="M2096.5 1431.1A909 909 0 0 1 2083.2 1460.9L2045.1 1443.2A867 867 0 0 0 2057.8 1414.7Z" fill="#9D65EF"/>
<path d="M2173.8 1463.8A993 993 0 0 1 2159.3 1496.5L2121.3 1478.7A951 951 0 0 0 2135.2 1447.4Z" fill="#5A3AF6"/>
<path d="M2007.3 1424.9A825 825 0 0 1 1994.3 1451.6L1956.9 1432.5A783 783 0 0 0 1969.3 1407.2Z" fill="#9D65EF"/>
<path d="M2045.4 1442.6A867 867 0 0 1 2031.7 1470.7L1994.3 1451.6A825 825 0 0 0 2007.3 1424.9Z" fill="#8656F1"/>
<path d="M1980.9 1476.8A825 825 0 0 1 1966 1502.5L1930.1 1480.8A783 783 0 0 0 1944.2 1456.4Z" fill="#8656F1"/>
<path d="M2017.6 1497.1A867 867 0 0 1 2002 1524.1L1966 1502.5A825 825 0 0 0 1980.9 1476.8Z" fill="#5A3AF6"/>
<path d="M2054.3 1517.5A909 909 0 0 1 2038 1545.8L2002 1524.1A867 867 0 0 0 2017.6 1497.1Z" fill="#9D65EF"/>
<path d="M2091.1 1537.9A951 951 0 0 1 2073.9 1567.5L2038 1545.8A909 909 0 0 0 2054.3 1517.5Z" fill="#7048F4"/>
<path d="M2127.8 1558.3A993 993 0 0 1 2109.9 1589.2L2073.9 1567.5A951 951 0 0 0 2091.1 1537.9Z" fill="#0000FF"/>
<path d="M2164.5 1578.7A1035 1035 0 0 1 2145.9 1610.9L2109.9 1589.2A993 993 0 0 0 2127.8 1558.3Z" fill="#432BF8"/>
<path d="M1966.3 1502A825 825 0 0 1 1950.6 1527.1L1915.4 1504.2A783 783 0 0 0 1930.3 1480.3Z" fill="#9D65EF"/>
<path d="M2002.3 1523.6A867 867 0 0 1 1985.7 1550.1L1950.6 1527.1A825 825 0 0 0 1966.3 1502Z" fill="#9D65EF"/>
<path d="M2038.3 1545.3A909 909 0 0 1 2020.9 1573L1985.7 1550.1A867 867 0 0 0 2002.3 1523.6Z" fill="#9D65EF"/>
<path d="M2074.3 1566.9A951 951 0 0 1 2056.1 1595.9L2020.9 1573A909 909 0 0 0 2038.3 1545.3Z" fill="#9D65EF"/>
<path d="M2110.3 1588.6A993 993 0 0 1 2091.3 1618.9L2056.1 1595.9A951 951 0 0 0 2074.3 1566.9Z" fill="#9D65EF"/>
<path d="M2146.2 1610.3A1035 1035 0 0 1 2126.5 1641.8L2091.3 1618.9A993 993 0 0 0 2110.3 1588.6Z" fill="#CA82EA"/>
<path d="M1950.9 1526.6A825 825 0 0 1 1934.2 1551.2L1899.9 1527.1A783 783 0 0 0 1915.7 1503.7Z" fill="#5A3AF6"/>
<path d="M1986.1 1549.6A867 867 0 0 1 1968.6 1575.4L1934.2 1551.2A825 825 0 0 0 1950.9 1526.6Z" fill="#E090E8"/>
<path d="M2021.3 1572.5A909 909 0 0 1 2002.9 1599.6L1968.6 1575.4A867 867 0 0 0 1986.1 1549.6Z" fill="#5A3AF6"/>
<path d="M2056.5 1595.4A951 951 0 0 1 2037.3 1623.7L2002.9 1599.6A909 909 0 0 0 2021.3 1572.5Z" fill="#432BF8"/>
<path d="M2091.7 1618.3A993 993 0 0 1 2071.6 1647.9L2037.3 1623.7A951 951 0 0 0 2056.5 1595.4Z" fill="#5A3AF6"/>
<path d="M2126.9 1641.2A1035 1035 0 0 1 2106 1672.1L2071.6 1647.9A993 993 0 0 0 2091.7 1618.3Z" fill="#CA82EA"/>
<path d="M1934.6 1550.8A825 825 0 0 1 1917.1 1574.7L1883.6 1549.4A783 783 0 0 0 1900.2 1526.6Z" fill="#5A3AF6"/>
<path d="M1968.9 1574.9A867 867 0 0 1 1950.5 1600.1L1917.1 1574.7A825 825 0 0 0 1934.6 1550.8Z" fill="#9D65EF"/>
<path d="M2003.3 1599A909 909 0 0 1 1984 1625.5L1950.5 1600.1A867 867 0 0 0 1968.9 1574.9Z" fill="#9D65EF"/>
<path d="M2037.7 1623.2A951 951 0 0 1 2017.5 1650.8L1984 1625.5A909 909 0 0 0 2003.3 1599Z" fill="#5A3AF6"/>
<path d="M2072 1647.3A993 993 0 0 1 2051 1676.2L2017.5 1650.8A951 951 0 0 0 2037.7 1623.2Z" fill="#5A3AF6"/>
<path d="M2106.4 1671.5A1035 1035 0 0 1 2084.4 1701.6L2051 1676.2A993 993 0 0 0 2072 1647.3Z" fill="#5A3AF6"/>
<path d="M1917.4 1574.3A825 825 0 0 1 1899.1 1597.6L1866.5 1571.1A783 783 0 0 0 1883.9 1548.9Z" fill="#B373ED"/>
<path d="M1950.9 1599.6A867 867 0 0 1 1931.6 1624.2L1899.1 1597.6A825 825 0 0 0 1917.4 1574.3Z" fill="#8656F1"/>
<path d="M1984.4 1625A909 909 0 0 1 1964.2 1650.7L1931.6 1624.2A867 867 0 0 0 1950.9 1599.6Z" fill="#B373ED"/>
<path d="M2017.9 1650.3A951 951 0 0 1 1996.8 1677.2L1964.2 1650.7A909 909 0 0 0 1984.4 1625Z" fill="#5A3AF6"/>
<path d="M2051.4 1675.6A993 993 0 0 1 2029.3 1703.7L1996.8 1677.2A951 951 0 0 0 2017.9 1650.3Z" fill="#432BF8"/>
<path d="M2084.9 1701A1035 1035 0 0 1 2061.9 1730.3L2029.3 1703.7A993 993 0 0 0 2051.4 1675.6Z" fill="#5A3AF6"/>
<path d="M1899.4 1597.2A825 825 0 0 1 1880.3 1619.9L1848.7 1592.2A783 783 0 0 0 1866.9 1570.7Z" fill="#8656F1"/>
<path d="M1932 1623.7A867 867 0 0 1 1911.9 1647.5L1880.3 1619.9A825 825 0 0 0 1899.4 1597.2Z" fill="#5A3AF6"/>
<path d="M1964.6 1650.2A909 909 0 0 1 1943.5 1675.2L1911.9 1647.5A867 867 0 0 0 1932 1623.7Z" fill="#7048F4"/>
<path d="M2029.8 1703.2A993 993 0 0 1 2006.7 1730.5L1975.1 1702.8A951 951 0 0 0 1997.2 1676.7Z" fill="#5A3AF6"/>
<path d="M1880.7 1619.4A825 825 0 0 1 1860.7 1641.4L1830.1 1612.7A783 783 0 0 0 1849 1591.8Z" fill="#CA82EA"/>
<path d="M1912.3 1647.1A867 867 0 0 1 1891.3 1670.2L1860.7 1641.4A825 825 0 0 0 1880.7 1619.4Z" fill="#0000FF"/>
<path d="M1943.9 1674.7A909 909 0 0 1 1922 1698.9L1891.3 1670.2A867 867 0 0 0 1912.3 1647.1Z" fill="#7048F4"/>
<path d="M1975.5 1702.3A951 951 0 0 1 1952.6 1727.7L1922 1698.9A909 909 0 0 0 1943.9 1674.7Z" fill="#7048F4"/>
<path d="M2007.2 1730A993 993 0 0 1 1983.2 1756.5L1952.6 1727.7A951 951 0 0 0 1975.5 1702.3Z" fill="#160EFD"/>
<path d="M2038.8 1757.6A1035 1035 0 0 1 2013.8 1785.2L1983.2 1756.5A993 993 0 0 0 2007.2 1730Z" fill="#0000FF"/>
<path d="M1922.4 1698.5A909 909 0 0 1 1899.6 1721.9L1870 1692.1A867 867 0 0 0 1891.8 1669.7Z" fill="#7048F4"/>
<path d="M1953 1727.2A951 951 0 0 1 1929.2 1751.8L1899.6 1721.9A909 909 0 0 0 1922.4 1698.5Z" fill="#7048F4"/>
<path d="M1983.6 1756A993 993 0 0 1 1958.7 1781.6L1929.2 1751.8A951 951 0 0 0 1953 1727.2Z" fill="#8656F1"/>
<path d="M2014.3 1784.7A1035 1035 0 0 1 1988.3 1811.4L1958.7 1781.6A993 993 0 0 0 1983.6 1756Z" fill="#9D65EF"/>
<path d="M1900 1721.5A909 909 0 0 1 1876.4 1744.1L1847.9 1713.3A867 867 0 0 0 1870.4 1691.7Z" fill="#432BF8"/>
<path d="M1959.2 1781.1A993 993 0 0 1 1933.4 1805.8L1904.9 1775A951 951 0 0 0 1929.6 1751.3Z" fill="#8656F1"/>
<path d="M1819.8 1682A825 825 0 0 1 1797.7 1701.8L1770.3 1670A783 783 0 0 0 1791.3 1651.2Z" fill="#432BF8"/>
<path d="M1848.4 1712.9A867 867 0 0 1 1825.1 1733.6L1797.7 1701.8A825 825 0 0 0 1819.8 1682Z" fill="#5A3AF6"/>
<path d="M1876.9 1743.7A909 909 0 0 1 1852.5 1765.5L1825.1 1733.6A867 867 0 0 0 1848.4 1712.9Z" fill="#5A3AF6"/>
<path d="M1905.4 1774.5A951 951 0 0 1 1879.9 1797.3L1852.5 1765.5A909 909 0 0 0 1876.9 1743.7Z" fill="#8656F1"/>
<path d="M1933.9 1805.3A993 993 0 0 1 1907.3 1829.1L1879.9 1797.3A951 951 0 0 0 1905.4 1774.5Z" fill="#7048F4"/>
<path d="M1962.5 1836.2A1035 1035 0 0 1 1934.7 1861L1907.3 1829.1A993 993 0 0 0 1933.9 1805.3Z" fill="#5A3AF6"/>
<path d="M1798.1 1701.4A825 825 0 0 1 1775.3 1720.4L1749 1687.6A783 783 0 0 0 1770.7 1669.6Z" fill="#432BF8"/>
<path d="M1825.5 1733.2A867 867 0 0 1 1801.5 1753.2L1775.3 1720.4A825 825 0 0 0 1798.1 1701.4Z" fill="#5A3AF6"/>
<path d="M1853 1765A909 909 0 0 1 1827.8 1786L1801.5 1753.2A867 867 0 0 0 1825.5 1733.2Z" fill="#160EFD"/>
<path d="M1880.4 1796.9A951 951 0 0 1 1854.1 1818.7L1827.8 1786A909 909 0 0 0 1853 1765Z" fill="#8656F1"/>
<path d="M1907.8 1828.7A993 993 0 0 1 1880.3 1851.5L1854.1 1818.7A951 951 0 0 0 1880.4 1796.9Z" fill="#8656F1"/>
<path d="M1935.2 1860.5A1035 1035 0 0 1 1906.6 1884.3L1880.3 1851.5A993 993 0 0 0 1907.8 1828.7Z" fill="#7048F4"/>
<path d="M1775.7 1720A825 825 0 0 1 1752.2 1738.2L1727.2 1704.5A783 783 0 0 0 1749.4 1687.3Z" fill="#8656F1"/>
<path d="M1802 1752.8A867 867 0 0 1 1777.3 1771.9L1752.2 1738.2A825 825 0 0 0 1775.7 1720Z" fill="#B373ED"/>
<path d="M1828.3 1785.6A909 909 0 0 1 1802.4 1805.6L1777.3 1771.9A867 867 0 0 0 1802 1752.8Z" fill="#5A3AF6"/>
<path d="M1854.6 1818.3A951 951 0 0 1 1827.5 1839.2L1802.4 1805.6A909 909 0 0 0 1828.3 1785.6Z" fill="#9D65EF"/>
<path d="M1880.9 1851.1A993 993 0 0 1 1852.6 1872.9L1827.5 1839.2A951 951 0 0 0 1854.6 1818.3Z" fill="#B373ED"/>
<path d="M1907.1 1883.8A1035 1035 0 0 1 1877.7 1906.6L1852.6 1872.9A993 993 0 0 0 1880.9 1851.1Z" fill="#CA82EA"/>
<path d="M1228.8 2111A1035 1035 0 0 1 1191.6 2109.3L1194.3 2067.4A993 993 0 0 0 1230 2069.1Z" fill="#432BF8"/>
<path d="M1119.2 1889.5A825 825 0 0 1 1090.1 1883.9L1098.7 1842.8A783 783 0 0 0 1126.4 1848.1Z" fill="#8656F1"/>
<path d="M1112.1 1930.9A867 867 0 0 1 1081.5 1925L1090.1 1883.9A825 825 0 0 0 1119.2 1889.5Z" fill="#5A3AF6"/>
<path d="M1105 1972.3A909 909 0 0 1 1072.8 1966.1L1081.5 1925A867 867 0 0 0 1112.1 1930.9Z" fill="#9D65EF"/>
<path d="M1090.7 2055A993 993 0 0 1 1055.6 2048.3L1064.2 2007.2A951 951 0 0 0 1097.8 2013.7Z" fill="#5A3AF6"/>
<path d="M1083.5 2096.4A1035 1035 0 0 1 1047 2089.4L1055.6 2048.3A993 993 0 0 0 1090.7 2055Z" fill="#5A3AF6"/>
<path d="M1090.7 1884A825 825 0 0 1 1061.7 1877.4L1071.8 1836.7A783 783 0 0 0 1099.2 1842.9Z" fill="#8656F1"/>
<path d="M1082.1 1925.1A867 867 0 0 1 1051.6 1918.2L1061.7 1877.4A825 825 0 0 0 1090.7 1884Z" fill="#9D65EF"/>
<path d="M1073.5 1966.3A909 909 0 0 1 1041.6 1959L1051.6 1918.2A867 867 0 0 0 1082.1 1925.1Z" fill="#7048F4"/>
<path d="M1064.9 2007.4A951 951 0 0 1 1031.5 1999.8L1041.6 1959A909 909 0 0 0 1073.5 1966.3Z" fill="#5A3AF6"/>
<path d="M1056.3 2048.5A993 993 0 0 1 1021.4 2040.5L1031.5 1999.8A951 951 0 0 0 1064.9 2007.4Z" fill="#5A3AF6"/>
<path d="M1047.7 2089.6A1035 1035 0 0 1 1011.4 2081.3L1021.4 2040.5A993 993 0 0 0 1056.3 2048.5Z" fill="#5A3AF6"/>
<path d="M1062.3 1877.6A825 825 0 0 1 1033.6 1870L1045.1 1829.6A783 783 0 0 0 1072.3 1836.8Z" fill="#9D65EF"/>
<path d="M1052.2 1918.4A867 867 0 0 1 1022.1 1910.4L1033.6 1870A825 825 0 0 0 1062.3 1877.6Z" fill="#8656F1"/>
<path d="M1042.2 1959.1A909 909 0 0 1 1010.6 1950.8L1022.1 1910.4A867 867 0 0 0 1052.2 1918.4Z" fill="#8656F1"/>
<path d="M1032.1 1999.9A951 951 0 0 1 999.1 1991.1L1010.6 1950.8A909 909 0 0 0 1042.2 1959.1Z" fill="#9D65EF"/>
<path d="M1022.1 2040.7A993 993 0 0 1 987.6 2031.5L999.1 1991.1A951 951 0 0 0 1032.1 1999.9Z" fill="#9D65EF"/>
<path d="M1012.1 2081.5A1035 1035 0 0 1 976.1 2071.9L987.6 2031.5A993 993 0 0 0 1022.1 2040.7Z" fill="#9D65EF"/>
<path d="M1034.1 1870.1A825 825 0 0 1 1005.7 1861.5L1018.6 1821.5A783 783 0 0 0 1045.6 1829.7Z" fill="#5A3AF6"/>
<path d="M1022.7 1910.5A867 867 0 0 1 992.8 1901.5L1005.7 1861.5A825 825 0 0 0 1034.1 1870.1Z" fill="#160EFD"/>
<path d="M1011.2 1950.9A909 909 0 0 1 979.9 1941.4L992.8 1901.5A867 867 0 0 0 1022.7 1910.5Z" fill="#5A3AF6"/>
<path d="M999.7 1991.3A951 951 0 0 1 967 1981.4L979.9 1941.4A909 909 0 0 0 1011.2 1950.9Z" fill="#9D65EF"/>
<path d="M988.2 2031.7A993 993 0 0 1 954 2021.4L967 1981.4A951 951 0 0 0 999.7 1991.3Z" fill="#9D65EF"/>
<path d="M976.8 2072.1A1035 1035 0 0 1 941.1 2061.3L954 2021.4A993 993 0 0 0 988.2 2031.7Z" fill="#9D65EF"/>
<path d="M1006.3 1861.7A825 825 0 0 1 978.2 1852.1L992.5 1812.6A783 783 0 0 0 1019.2 1821.7Z" fill="#5A3AF6"/>
<path d="M993.4 1901.6A867 867 0 0 1 963.9 1891.5L978.2 1852.1A825 825 0 0 0 1006.3 1861.7Z" fill="#0000FF"/>
<path d="M980.5 1941.6A909 909 0 0 1 949.5 1931L963.9 1891.5A867 867 0 0 0 993.4 1901.6Z" fill="#0000FF"/>
<path d="M967.6 1981.6A951 951 0 0 1 935.2 1970.5L949.5 1931A909 909 0 0 0 980.5 1941.6Z" fill="#5A3AF6"/>
<path d="M954.7 2021.6A993 993 0 0 1 920.9 2010L935.2 1970.5A951 951 0 0 0 967.6 1981.6Z" fill="#5A3AF6"/>
<path d="M941.8 2061.5A1035 1035 0 0 1 906.6 2049.5L920.9 2010A993 993 0 0 0 954.7 2021.6Z" fill="#0000FF"/>
<path d="M978.7 1852.3A825 825 0 0 1 951 1841.6L966.7 1802.7A783 783 0 0 0 993 1812.8Z" fill="#5A3AF6"/>
<path d="M964.4 1891.7A867 867 0 0 1 935.3 1880.6L951 1841.6A825 825 0 0 0 978.7 1852.3Z" fill="#5A3AF6"/>
<path d="M950.1 1931.2A909 909 0 0 1 919.6 1919.6L935.3 1880.6A867 867 0 0 0 964.4 1891.7Z" fill="#8656F1"/>
<path d="M935.8 1970.7A951 951 0 0 1 903.9 1958.5L919.6 1919.6A909 909 0 0 0 950.1 1931.2Z" fill="#7048F4"/>
<path d="M921.5 2010.2A993 993 0 0 1 888.2 1997.5L903.9 1958.5A951 951 0 0 0 935.8 1970.7Z" fill="#7048F4"/>
<path d="M907.3 2049.7A1035 1035 0 0 1 872.5 2036.4L888.2 1997.5A993 993 0 0 0 921.5 2010.2Z" fill="#8656F1"/>
<path d="M951.5 1841.9A825 825 0 0 1 924.2 1830.3L941.3 1791.9A783 783 0 0 0 967.2 1802.9Z" fill="#5A3AF6"/>
<path d="M935.9 1880.8A867 867 0 0 1 907.1 1868.7L924.2 1830.3A825 825 0 0 0 951.5 1841.9Z" fill="#CA82EA"/>
<path d="M920.2 1919.8A909 909 0 0 1 890.1 1907L907.1 1868.7A867 867 0 0 0 935.9 1880.8Z" fill="#8656F1"/>
<path d="M904.5 1958.8A951 951 0 0 1 873 1945.4L890.1 1907A909 909 0 0 0 920.2 1919.8Z" fill="#7048F4"/>
<path d="M888.8 1997.7A993 993 0 0 1 855.9 1983.8L873 1945.4A951 951 0 0 0 904.5 1958.8Z" fill="#7048F4"/>
<path d="M873.1 2036.7A1035 1035 0 0 1 838.8 2022.2L855.9 1983.8A993 993 0 0 0 888.8 1997.7Z" fill="#5A3AF6"/>
<path d="M898.3 1818.2A825 825 0 0 1 871.9 1804.8L891.6 1767.7A783 783 0 0 0 916.7 1780.5Z" fill="#5A3AF6"/>
<path d="M879.9 1856A867 867 0 0 1 852.1 1841.8L871.9 1804.8A825 825 0 0 0 898.3 1818.2Z" fill="#0000FF"/>
<path d="M861.6 1893.8A909 909 0 0 1 832.4 1878.9L852.1 1841.8A867 867 0 0 0 879.9 1856Z" fill="#8656F1"/>
<path d="M843.2 1931.5A951 951 0 0 1 812.7 1916L832.4 1878.9A909 909 0 0 0 861.6 1893.8Z" fill="#8656F1"/>
<path d="M824.8 1969.3A993 993 0 0 1 792.9 1953.1L812.7 1916A951 951 0 0 0 843.2 1931.5Z" fill="#8656F1"/>
<path d="M806.4 2007A1035 1035 0 0 1 773.2 1990.1L792.9 1953.1A993 993 0 0 0 824.8 1969.3Z" fill="#7048F4"/>
<path d="M872.4 1805A825 825 0 0 1 846.4 1790.6L867.5 1754.3A783 783 0 0 0 892.1 1767.9Z" fill="#5A3AF6"/>
<path d="M852.7 1842.1A867 867 0 0 1 825.4 1827L846.4 1790.6A825 825 0 0 0 872.4 1805Z" fill="#5A3AF6"/>
<path d="M833 1879.2A909 909 0 0 1 804.4 1863.3L825.4 1827A867 867 0 0 0 852.7 1842.1Z" fill="#8656F1"/>
<path d="M813.3 1916.3A951 951 0 0 1 783.3 1899.7L804.4 1863.3A909 909 0 0 0 833 1879.2Z" fill="#7048F4"/>
<path d="M793.6 1953.4A993 993 0 0 1 762.3 1936.1L783.3 1899.7A951 951 0 0 0 813.3 1916.3Z" fill="#9D65EF"/>
<path d="M773.8 1990.5A1035 1035 0 0 1 741.3 1972.4L762.3 1936.1A993 993 0 0 0 793.6 1953.4Z" fill="#8656F1"/>
<path d="M846.9 1790.9A825 825 0 0 1 821.5 1775.6L843.8 1740A783 783 0 0 0 867.9 1754.6Z" fill="#CA82EA"/>
<path d="M825.9 1827.3A867 867 0 0 1 799.2 1811.2L821.5 1775.6A825 825 0 0 0 846.9 1790.9Z" fill="#8656F1"/>
<path d="M804.9 1863.7A909 909 0 0 1 776.9 1846.8L799.2 1811.2A867 867 0 0 0 825.9 1827.3Z" fill="#B373ED"/>
<path d="M783.9 1900A951 951 0 0 1 754.6 1882.4L776.9 1846.8A909 909 0 0 0 804.9 1863.7Z" fill="#7048F4"/>
<path d="M762.9 1936.4A993 993 0 0 1 732.3 1918L754.6 1882.4A951 951 0 0 0 783.9 1900Z" fill="#B373ED"/>
<path d="M741.9 1972.8A1035 1035 0 0 1 710 1953.6L732.3 1918A993 993 0 0 0 762.9 1936.4Z" fill="#CA82EA"/>
<path d="M797.6 1760.1A825 825 0 0 1 773.3 1743L798 1709.1A783 783 0 0 0 821.1 1725.3Z" fill="#9D65EF"/>
<path d="M774.1 1794.9A867 867 0 0 1 748.5 1776.9L773.3 1743A825 825 0 0 0 797.6 1760.1Z" fill="#0000FF"/>
<path d="M750.5 1829.7A909 909 0 0 1 723.8 1810.9L748.5 1776.9A867 867 0 0 0 774.1 1794.9Z" fill="#2D1DFA"/>
<path d="M727 1864.4A951 951 0 0 1 699 1844.8L723.8 1810.9A909 909 0 0 0 750.5 1829.7Z" fill="#160EFD"/>
<path d="M703.5 1899.2A993 993 0 0 1 674.3 1878.7L699 1844.8A951 951 0 0 0 727 1864.4Z" fill="#160EFD"/>
<path d="M680 1934A1035 1035 0 0 1 649.5 1912.6L674.3 1878.7A993 993 0 0 0 703.5 1899.2Z" fill="#0000FF"/>
<path d="M727.9 1707.4A825 825 0 0 1 705.6 1687.9L733.8 1656.8A783 783 0 0 0 755 1675.3Z" fill="#8656F1"/>
<path d="M700.9 1739.5A867 867 0 0 1 677.4 1719L705.6 1687.9A825 825 0 0 0 727.9 1707.4Z" fill="#5A3AF6"/>
<path d="M673.8 1771.7A909 909 0 0 1 649.2 1750.1L677.4 1719A867 867 0 0 0 700.9 1739.5Z" fill="#9D65EF"/>
<path d="M646.7 1803.8A951 951 0 0 1 621 1781.3L649.2 1750.1A909 909 0 0 0 673.8 1771.7Z" fill="#9D65EF"/>
<path d="M619.7 1835.9A993 993 0 0 1 592.8 1812.4L621 1781.3A951 951 0 0 0 646.7 1803.8Z" fill="#7048F4"/>
<path d="M592.6 1868A1035 1035 0 0 1 564.6 1843.5L592.8 1812.4A993 993 0 0 0 619.7 1835.9Z" fill="#CA82EA"/>
<path d="M706 1688.3A825 825 0 0 1 684.3 1668L713.6 1637.8A783 783 0 0 0 734.2 1657.1Z" fill="#8656F1"/>
<path d="M677.8 1719.4A867 867 0 0 1 655.1 1698.1L684.3 1668A825 825 0 0 0 706 1688.3Z" fill="#8656F1"/>
<path d="M649.6 1750.6A909 909 0 0 1 625.8 1728.2L655.1 1698.1A867 867 0 0 0 677.8 1719.4Z" fill="#7048F4"/>
<path d="M621.5 1781.7A951 951 0 0 1 596.5 1758.3L625.8 1728.2A909 909 0 0 0 649.6 1750.6Z" fill="#8656F1"/>
<path d="M593.3 1812.8A993 993 0 0 1 567.2 1788.4L596.5 1758.3A951 951 0 0 0 621.5 1781.7Z" fill="#5A3AF6"/>
<path d="M565.1 1844A1035 1035 0 0 1 537.9 1818.5L567.2 1788.4A993 993 0 0 0 593.3 1812.8Z" fill="#8656F1"/>
<path d="M684.8 1668.4A825 825 0 0 1 663.8 1647.3L694.2 1618.2A783 783 0 0 0 714 1638.2Z" fill="#5A3AF6"/>
<path d="M655.5 1698.5A867 867 0 0 1 633.5 1676.4L663.8 1647.3A825 825 0 0 0 684.8 1668.4Z" fill="#B373ED"/>
<path d="M626.2 1728.6A909 909 0 0 1 603.2 1705.4L633.5 1676.4A867 867 0 0 0 655.5 1698.5Z" fill="#0000FF"/>
<path d="M597 1758.8A951 951 0 0 1 572.9 1734.5L603.2 1705.4A909 909 0 0 0 626.2 1728.6Z" fill="#7048F4"/>
<path d="M567.7 1788.9A993 993 0 0 1 542.5 1763.5L572.9 1734.5A951 951 0 0 0 597 1758.8Z" fill="#432BF8"/>
<path d="M538.5 1819A1035 1035 0 0 1 512.2 1792.6L542.5 1763.5A993 993 0 0 0 567.7 1788.9Z" fill="#8656F1"/>
<path d="M664.2 1647.7A825 825 0 0 1 644.1 1625.9L675.4 1598A783 783 0 0 0 694.5 1618.6Z" fill="#5A3AF6"/>
<path d="M633.9 1676.8A867 867 0 0 1 612.7 1653.9L644.1 1625.9A825 825 0 0 0 664.2 1647.7Z" fill="#5A3AF6"/>
<path d="M603.6 1705.9A909 909 0 0 1 581.4 1681.9L612.7 1653.9A867 867 0 0 0 633.9 1676.8Z" fill="#9D65EF"/>
<path d="M573.3 1735A951 951 0 0 1 550.1 1709.8L581.4 1681.9A909 909 0 0 0 603.6 1705.9Z" fill="#B373ED"/>
<path d="M543 1764A993 993 0 0 1 518.7 1737.8L550.1 1709.8A951 951 0 0 0 573.3 1735Z" fill="#9D65EF"/>
<path d="M512.7 1793.1A1035 1035 0 0 1 487.4 1765.8L518.7 1737.8A993 993 0 0 0 543 1764Z" fill="#B373ED"/>
<path d="M644.5 1626.4A825 825 0 0 1 625.1 1603.9L657.4 1577A783 783 0 0 0 675.8 1598.4Z" fill="#160EFD"/>
<path d="M613.1 1654.3A867 867 0 0 1 592.8 1630.7L625.1 1603.9A825 825 0 0 0 644.5 1626.4Z" fill="#9D65EF"/>
<path d="M581.8 1682.3A909 909 0 0 1 560.5 1657.6L592.8 1630.7A867 867 0 0 0 613.1 1654.3Z" fill="#8656F1"/>
<path d="M550.5 1710.3A951 951 0 0 1 528.2 1684.4L560.5 1657.6A909 909 0 0 0 581.8 1682.3Z" fill="#5A3AF6"/>
<path d="M519.2 1738.3A993 993 0 0 1 495.9 1711.3L528.2 1684.4A951 951 0 0 0 550.5 1710.3Z" fill="#B373ED"/>
<path d="M487.9 1766.3A1035 1035 0 0 1 463.6 1738.1L495.9 1711.3A993 993 0 0 0 519.2 1738.3Z" fill="#CA82EA"/>
<path d="M625.4 1604.3A825 825 0 0 1 606.9 1581.2L640.1 1555.5A783 783 0 0 0 657.7 1577.4Z" fill="#9D65EF"/>
<path d="M593.2 1631.2A867 867 0 0 1 573.6 1606.9L606.9 1581.2A825 825 0 0 0 625.4 1604.3Z" fill="#B373ED"/>
<path d="M560.9 1658.1A909 909 0 0 1 540.4 1632.5L573.6 1606.9A867 867 0 0 0 593.2 1631.2Z" fill="#9D65EF"/>
<path d="M528.6 1684.9A951 951 0 0 1 507.2 1658.2L540.4 1632.5A909 909 0 0 0 560.9 1658.1Z" fill="#9D65EF"/>
<path d="M496.3 1711.8A993 993 0 0 1 474 1683.9L507.2 1658.2A951 951 0 0 0 528.6 1684.9Z" fill="#8656F1"/>
<path d="M464 1738.7A1035 1035 0 0 1 440.7 1709.6L474 1683.9A993 993 0 0 0 496.3 1711.8Z" fill="#9D65EF"/>
<path d="M573.2 1534.4A825 825 0 0 1 557.2 1509.4L592.9 1487.3A783 783 0 0 0 608.2 1511.1Z" fill="#8656F1"/>
<path d="M538.3 1557.7A867 867 0 0 1 521.4 1531.4L557.2 1509.4A825 825 0 0 0 573.2 1534.4Z" fill="#2D1DFA"/>
<path d="M503.3 1581A909 909 0 0 1 485.7 1553.4L521.4 1531.4A867 867 0 0 0 538.3 1557.7Z" fill="#7048F4"/>
<path d="M468.4 1604.3A951 951 0 0 1 449.9 1575.5L485.7 1553.4A909 909 0 0 0 503.3 1581Z" fill="#432BF8"/>
<path d="M433.5 1627.6A993 993 0 0 1 414.2 1597.5L449.9 1575.5A951 951 0 0 0 468.4 1604.3Z" fill="#5A3AF6"/>
<path d="M398.5 1650.9A1035 1035 0 0 1 378.4 1619.6L414.2 1597.5A993 993 0 0 0 433.5 1627.6Z" fill="#8656F1"/>
<path d="M450.3 1576.1A951 951 0 0 1 432.8 1546.6L469.3 1525.9A909 909 0 0 0 486 1554Z" fill="#7048F4"/>
<path d="M414.5 1598.1A993 993 0 0 1 396.3 1567.4L432.8 1546.6A951 951 0 0 0 450.3 1576.1Z" fill="#7048F4"/>
<path d="M378.8 1620.2A1035 1035 0 0 1 359.8 1588.1L396.3 1567.4A993 993 0 0 0 414.5 1598.1Z" fill="#5A3AF6"/>
<path d="M528.7 1459.3A825 825 0 0 1 515.4 1432.7L553.3 1414.6A783 783 0 0 0 565.9 1439.8Z" fill="#9D65EF"/>
<path d="M491.5 1478.8A867 867 0 0 1 477.5 1450.9L515.4 1432.7A825 825 0 0 0 528.7 1459.3Z" fill="#8656F1"/>
<path d="M454.3 1498.3A909 909 0 0 1 439.6 1469L477.5 1450.9A867 867 0 0 0 491.5 1478.8Z" fill="#5A3AF6"/>
<path d="M417.1 1517.7A951 951 0 0 1 401.7 1487.1L439.6 1469A909 909 0 0 0 454.3 1498.3Z" fill="#5A3AF6"/>
<path d="M379.9 1537.2A993 993 0 0 1 363.8 1505.3L401.7 1487.1A951 951 0 0 0 417.1 1517.7Z" fill="#7048F4"/>
<path d="M342.6 1556.7A1035 1035 0 0 1 326 1523.4L363.8 1505.3A993 993 0 0 0 379.9 1537.2Z" fill="#8656F1"/>
<path d="M492.3 1379.9A825 825 0 0 1 481.9 1352.1L521.5 1338.1A783 783 0 0 0 531.4 1364.5Z" fill="#5A3AF6"/>
<path d="M453.3 1395.4A867 867 0 0 1 442.3 1366.1L481.9 1352.1A825 825 0 0 0 492.3 1379.9Z" fill="#7048F4"/>
<path d="M414.2 1410.8A909 909 0 0 1 402.7 1380.2L442.3 1366.1A867 867 0 0 0 453.3 1395.4Z" fill="#9D65EF"/>
<path d="M375.2 1426.3A951 951 0 0 1 363.1 1394.2L402.7 1380.2A909 909 0 0 0 414.2 1410.8Z" fill="#8656F1"/>
<path d="M336.1 1441.7A993 993 0 0 1 323.6 1408.2L363.1 1394.2A951 951 0 0 0 375.2 1426.3Z" fill="#B373ED"/>
<path d="M297 1457.1A1035 1035 0 0 1 284 1422.3L323.6 1408.2A993 993 0 0 0 336.1 1441.7Z" fill="#7048F4"/>
<path d="M442.5 1366.7A867 867 0 0 1 432.6 1337.1L472.7 1324.5A825 825 0 0 0 482.1 1352.7Z" fill="#432BF8"/>
<path d="M363.4 1394.8A951 951 0 0 1 352.5 1362.4L392.5 1349.8A909 909 0 0 0 402.9 1380.8Z" fill="#7048F4"/>
<path d="M323.8 1408.9A993 993 0 0 1 312.4 1375L352.5 1362.4A951 951 0 0 0 363.4 1394.8Z" fill="#7048F4"/>
<path d="M284.2 1423A1035 1035 0 0 1 272.4 1387.6L312.4 1375A993 993 0 0 0 323.8 1408.9Z" fill="#8656F1"/>
<path d="M451 1240.5A825 825 0 0 1 445.6 1211.4L487 1204.5A783 783 0 0 0 492.1 1232.2Z" fill="#5A3AF6"/>
<path d="M409.8 1248.9A867 867 0 0 1 404.2 1218.2L445.6 1211.4A825 825 0 0 0 451 1240.5Z" fill="#0000FF"/>
<path d="M368.7 1257.3A909 909 0 0 1 362.7 1225.1L404.2 1218.2A867 867 0 0 0 409.8 1248.9Z" fill="#0000FF"/>
<path d="M327.5 1265.6A951 951 0 0 1 321.3 1231.9L362.7 1225.1A909 909 0 0 0 368.7 1257.3Z" fill="#7048F4"/>
<path d="M286.3 1274A993 993 0 0 1 279.9 1238.8L321.3 1231.9A951 951 0 0 0 327.5 1265.6Z" fill="#432BF8"/>
<path d="M245.2 1282.3A1035 1035 0 0 1 238.4 1245.7L279.9 1238.8A993 993 0 0 0 286.3 1274Z" fill="#2D1DFA"/>
<path d="M445.7 1211.9A825 825 0 0 1 441.3 1182.6L483 1177.2A783 783 0 0 0 487.1 1205Z" fill="#5A3AF6"/>
<path d="M404.3 1218.8A867 867 0 0 1 399.7 1188L441.3 1182.6A825 825 0 0 0 445.7 1211.9Z" fill="#B373ED"/>
<path d="M362.8 1225.7A909 909 0 0 1 358 1193.4L399.7 1188A867 867 0 0 0 404.3 1218.8Z" fill="#7048F4"/>
<path d="M321.4 1232.6A951 951 0 0 1 316.4 1198.8L358 1193.4A909 909 0 0 0 362.8 1225.7Z" fill="#7048F4"/>
<path d="M280 1239.5A993 993 0 0 1 274.7 1204.1L316.4 1198.8A951 951 0 0 0 321.4 1232.6Z" fill="#7048F4"/>
<path d="M238.5 1246.4A1035 1035 0 0 1 233.1 1209.5L274.7 1204.1A993 993 0 0 0 280 1239.5Z" fill="#B373ED"/>
<path d="M394 1127.6A867 867 0 0 1 392.7 1096.5L434.7 1095.5A825 825 0 0 0 435.9 1125.2Z" fill="#0000FF"/>
<path d="M310.2 1132.6A951 951 0 0 1 308.8 1098.4L350.7 1097.4A909 909 0 0 0 352.1 1130.1Z" fill="#8656F1"/>
<path d="M268.2 1135.1A993 993 0 0 1 266.8 1099.4L308.8 1098.4A951 951 0 0 0 310.2 1132.6Z" fill="#8656F1"/>
<path d="M226.3 1137.6A1035 1035 0 0 1 224.8 1100.3L266.8 1099.4A993 993 0 0 0 268.2 1135.1Z" fill="#8656F1"/>
<path d="M435.4 1037.9A825 825 0 0 1 437.3 1008.3L479.2 1011.7A783 783 0 0 0 477.4 1039.8Z" fill="#9D65EF"/>
<path d="M393.5 1035.9A867 867 0 0 1 395.5 1004.8L437.3 1008.3A825 825 0 0 0 435.4 1037.9Z" fill="#B373ED"/>
<path d="M351.5 1033.9A909 909 0 0 1 353.6 1001.3L395.5 1004.8A867 867 0 0 0 393.5 1035.9Z" fill="#8656F1"/>
<path d="M309.5 1032A951 951 0 0 1 311.8 997.8L353.6 1001.3A909 909 0 0 0 351.5 1033.9Z" fill="#5A3AF6"/>
<path d="M267.6 1030A993 993 0 0 1 269.9 994.4L311.8 997.8A951 951 0 0 0 309.5 1032Z" fill="#0000FF"/>
<path d="M225.6 1028A1035 1035 0 0 1 228 990.9L269.9 994.4A993 993 0 0 0 267.6 1030Z" fill="#432BF8"/>
<path d="M440.2 979.9A825 825 0 0 1 444.2 950.4L485.7 956.9A783 783 0 0 0 481.9 984.8Z" fill="#7048F4"/>
<path d="M398.5 974.9A867 867 0 0 1 402.7 944L444.2 950.4A825 825 0 0 0 440.2 979.9Z" fill="#8656F1"/>
<path d="M356.8 970A909 909 0 0 1 361.2 937.6L402.7 944A867 867 0 0 0 398.5 974.9Z" fill="#8656F1"/>
<path d="M273.3 960.2A993 993 0 0 1 278.2 924.8L319.7 931.2A951 951 0 0 0 315 965.1Z" fill="#432BF8"/>
<path d="M231.6 955.3A1035 1035 0 0 1 236.7 918.4L278.2 924.8A993 993 0 0 0 273.3 960.2Z" fill="#0000FF"/>
<path d="M478.8 809.8A825 825 0 0 1 488.9 781.9L528.1 796.9A783 783 0 0 0 518.5 823.4Z" fill="#8656F1"/>
<path d="M439 796.3A867 867 0 0 1 449.7 766.9L488.9 781.9A825 825 0 0 0 478.8 809.8Z" fill="#9D65EF"/>
<path d="M399.3 782.7A909 909 0 0 1 410.4 751.9L449.7 766.9A867 867 0 0 0 439 796.3Z" fill="#5A3AF6"/>
<path d="M359.5 769.1A951 951 0 0 1 371.2 736.9L410.4 751.9A909 909 0 0 0 399.3 782.7Z" fill="#8656F1"/>
<path d="M319.8 755.5A993 993 0 0 1 332 721.9L371.2 736.9A951 951 0 0 0 359.5 769.1Z" fill="#8656F1"/>
<path d="M280.1 742A1035 1035 0 0 1 292.7 706.9L332 721.9A993 993 0 0 0 319.8 755.5Z" fill="#9D65EF"/>
<path d="M538.6 675.3A825 825 0 0 1 2007.2 1425.2A825 825 0 0 1 488.8 782.2M501.9 654.8A867 867 0 0 1 2045.3 1442.9A867 867 0 0 1 449.5 767.2M465.2 634.4A909 909 0 0 1 2083.3 1460.7A909 909 0 0 1 410.3 752.2M428.5 614A951 951 0 0 1 2121.4 1478.4A951 951 0 0 1 371.1 737.2M391.8 593.6A993 993 0 0 1 2159.5 1496.2A993 993 0 0 1 331.8 722.3M589.2 671.8L373.5 541.6M603.9 648.4L392.9 510.6M619.4 625.5L413.4 480.4M635.7 603.2L435 450.9M652.8 581.5L457.5 422.2M670.6 560.4L481.1 394.3M689.2 540L505.7 367.3M708.5 520.2L531.2 341.1M728.5 501.1L557.6 315.9M749.1 482.7L584.8 291.6M770.4 465.1L612.9 268.3M792.2 448.2L641.9 246M814.7 432.1L671.5 224.7M837.7 416.8L702 204.5M861.2 402.3L733.1 185.4M885.3 388.7L764.8 167.4M909.8 375.9L797.2 150.5M934.7 364L830.2 134.7M960 353L863.7 120.2M985.8 342.9L897.7 106.8M1011.8 333.7L932.1 94.6M1038.2 325.4L966.9 83.7M1064.8 318.1L1002.1 74M1091.7 311.7L1037.7 65.6M1118.8 306.3L1073.5 58.4M1146 301.8L1109.5 52.4M1173.4 298.2L1145.7 47.8M1200.9 295.7L1182.1 44.4M1228.5 294.1L1218.6 42.3M1256.2 293.5L1255.1 41.5M1283.8 293.9L1291.6 42M1311.4 295.2L1328.1 43.8M1338.9 297.5L1364.5 46.8M1366.3 300.8L1400.7 51.2M1393.6 305.1L1436.8 56.8M1420.8 310.3L1472.7 63.7M1447.7 316.5L1508.3 71.8M1474.4 323.6L1543.6 81.2M1500.8 331.6L1578.5 91.9M1527 340.6L1613 103.8M1552.8 350.5L1647.1 116.8M1578.2 361.3L1680.8 131.1M1603.2 373L1713.8 146.6M1627.8 385.5L1746.4 163.2M1652 399L1778.3 180.9M1675.6 413.2L1809.6 199.8M1698.8 428.3L1840.2 219.7M1721.4 444.2L1870 240.7M1743.4 460.9L1899.1 262.8M1764.8 478.4L1927.4 285.9M1785.6 496.6L1954.9 309.9M1805.7 515.5L1981.5 334.9M1825.2 535.1L2007.2 360.9M1843.9 555.4L2032 387.7M1861.9 576.4L2055.8 415.4M1879.2 597.9L2078.7 443.9M1895.7 620.1L2100.5 473.2M1911.4 642.8L2121.2 503.2M1926.3 666.1L2140.9 534M1940.4 689.9L2159.5 565.4M1953.6 714.1L2177 597.5M1966 738.8L2193.3 630.2M1977.4 764L2208.5 663.4M1988 789.5L2222.5 697.1M1997.7 815.4L2235.3 731.3M2006.4 841.6L2246.8 766M2014.3 868.1L2257.2 801M2021.1 894.8L2266.3 836.4M2027.1 921.8L2274.1 872M2032.1 949L2280.7 908M2036.1 976.3L2286 944.1M2039.1 1003.8L2290 980.4M2041.2 1031.3L2292.8 1016.8M2042.3 1059L2294.2 1053.3M2042.4 1086.6L2294.4 1089.8M2041.6 1114.2L2293.3 1126.3M2039.8 1141.8L2290.9 1162.8M2037 1169.3L2287.2 1199.1M2033.2 1196.6L2282.2 1235.3M2028.5 1223.9L2276 1271.3M2022.8 1250.9L2268.5 1307M2016.2 1277.7L2259.7 1342.5M2008.6 1304.3L2249.7 1377.6M2000.1 1330.6L2238.5 1412.3M1990.7 1356.5L2226 1446.7M1980.4 1382.2L2212.4 1480.5M1969.1 1407.4L2197.5 1513.9M1957 1432.2L2181.5 1546.7M1944 1456.6L2164.3 1579M1930.2 1480.5L2146.1 1610.6M1915.5 1504L2126.7 1641.5M1900 1526.8L2106.2 1671.8M1883.8 1549.2L2084.7 1701.3M1866.7 1570.9L2062.1 1730M1848.9 1592L2038.6 1757.9M1830.3 1612.5L2014 1785M1811.1 1632.3L1988.6 1811.1M1791.1 1651.4L1962.2 1836.4M1770.5 1669.8L1934.9 1860.7M1749.2 1687.4L1906.9 1884.1M1727.4 1704.3L1878 1906.4M1704.9 1720.5L1848.3 1927.7M1681.9 1735.8L1817.9 1947.9M1658.4 1750.3L1786.8 1967.1M1634.4 1763.9L1755.1 1985.2M1609.9 1776.7L1722.7 2002.1M1585 1788.6L1689.7 2017.8M1559.7 1799.7L1656.3 2032.4M1534 1809.8L1622.3 2045.8M1507.9 1819L1587.9 2058M1481.6 1827.3L1553 2069M1454.9 1834.7L1517.8 2078.7M1428.1 1841.1L1482.3 2087.2M1401 1846.6L1446.5 2094.5M1373.7 1851.1L1410.5 2100.4M1346.3 1854.7L1374.3 2105.1M1318.8 1857.2L1337.9 2108.5M1291.2 1858.9L1301.5 2110.6M1263.6 1859.5L1264.9 2111.5M1236 1859.1L1228.4 2111M1208.4 1857.8L1191.9 2109.3M1180.9 1855.5L1155.5 2106.3M1153.4 1852.3L1119.3 2102M1126.1 1848.1L1083.2 2096.4M1099 1842.9L1047.3 2089.5M1072 1836.7L1011.7 2081.4M1045.3 1829.6L976.4 2072M1018.9 1821.6L941.5 2061.4M992.8 1812.7L906.9 2049.6M967 1802.8L872.8 2036.5M941.5 1792L839.2 2022.3M916.5 1780.4L806.1 2006.9M891.8 1767.8L773.5 1990.3M867.7 1754.4L741.6 1972.6M844 1740.2L710.3 1953.8M820.9 1725.1L679.7 1933.8M798.2 1709.2L649.8 1912.9M776.2 1692.6L620.7 1890.8M754.8 1675.1L592.3 1867.8M734 1656.9L564.8 1843.7M713.8 1638L538.2 1818.8M694.4 1618.4L512.5 1792.9M675.6 1598.2L487.7 1766.1M657.5 1577.2L463.8 1738.4M640.3 1555.7L441 1709.9M623.7 1533.5L419.1 1680.6M608 1510.8L398.3 1650.6M593.1 1487.6L378.6 1619.9M579 1463.8L360 1588.5M565.8 1439.6L342.5 1556.4M553.4 1414.9L326.1 1523.7M541.9 1389.7L310.9 1490.5M531.3 1364.2L296.9 1456.8M521.6 1338.3L284.1 1422.6M512.8 1312.1L272.5 1388M505 1285.7L262.1 1353M498 1258.9L253 1317.6M492.1 1231.9L245.1 1282M487.1 1204.8L238.5 1246M483 1177.4L233.1 1209.9M480 1150L229.1 1173.6M477.8 1122.4L226.3 1137.2M476.7 1094.8L224.8 1100.7M476.6 1067.2L224.6 1064.2M477.4 1039.6L225.7 1027.7M479.2 1012L228 991.2M481.9 984.5L231.7 954.9M485.7 957.1L236.6 918.7M490.3 929.9L242.8 882.7M496 902.9L250.3 847M502.6 876L259 811.5M510.1 849.5L269 776.4M518.6 823.2L280.2 741.6" fill="none" stroke="#E6E3E2" stroke-opacity="0.45" stroke-width="1.2"/>
</g>
<path d="M577.1 696.7A781 781 0 0 1 654.3 582.8L969.5 839.9A374.3 374.3 0 0 0 932.4 894.5Z" fill="#FE0000"/>
<path d="M654.3 582.8A781 781 0 0 1 690.7 541.3L955 790A418.1 418.1 0 0 0 935.5 812.2Z" fill="#FF7777"/>
<path d="M690.7 541.3A781 781 0 0 1 709.9 521.6L949.2 763.2A441 441 0 0 0 938.3 774.3Z" fill="#FFCFCF"/>
<path d="M709.9 521.6A781 781 0 0 1 886.2 390.5L1101.5 786.2A330.5 330.5 0 0 0 1026.9 841.7Z" fill="#FF8400"/>
<path d="M886.2 390.5A781 781 0 0 1 1119.1 308.2L1200.1 751.4A330.5 330.5 0 0 0 1101.5 786.2Z" fill="#FFC387"/>
<path d="M1119.1 308.2A781 781 0 0 1 1256.2 295.5L1258 724.1A352.4 352.4 0 0 0 1196.2 729.8Z" fill="#FFE3CC"/>
<path d="M1256.2 295.5A781 781 0 0 1 1674.6 414.9L1411.9 833.6A286.7 286.7 0 0 0 1258.3 789.8Z" fill="#FFFF00"/>
<path d="M1674.6 414.9A781 781 0 0 1 1823.7 536.5L1514.1 832.8A352.4 352.4 0 0 0 1446.8 778Z" fill="#FFFFAD"/>
<path d="M1823.7 536.5A781 781 0 0 1 1894.1 621.3L1563.6 858.3A374.3 374.3 0 0 0 1529.9 817.7Z" fill="#FFFFE6"/>
<path d="M1894.1 621.3A781 781 0 0 1 1995.8 816L1591.7 959A352.4 352.4 0 0 0 1545.8 871.1Z" fill="#00AA00"/>
<path d="M1995.8 816A781 781 0 0 1 2039.6 1114.1L1524 1089.2A264.8 264.8 0 0 0 1509.1 988.2Z" fill="#41BA70"/>
<path d="M2039.6 1114.1A781 781 0 0 1 2035 1169L1674.7 1126A418.1 418.1 0 0 0 1677.1 1096.6Z" fill="#C3E9D2"/>
<path d="M2035 1169A781 781 0 0 1 1998.2 1329.9L1613.5 1198A374.3 374.3 0 0 0 1631.2 1120.8Z" fill="#00A9DE"/>
<path d="M1998.2 1329.9A781 781 0 0 1 1789.7 1649.9L1469 1303.1A308.6 308.6 0 0 0 1551.4 1176.6Z" fill="#4197C9"/>
<path d="M1789.7 1649.9A781 781 0 0 1 1748 1685.9L1521 1402.7A418.1 418.1 0 0 0 1543.4 1383.5Z" fill="#C9DDF0"/>
<path d="M1748 1685.9A781 781 0 0 1 1703.8 1718.8L1497.4 1420.4A418.1 418.1 0 0 0 1521 1402.7Z" fill="#C3C3CB"/>
<path d="M1703.8 1718.8A781 781 0 0 1 1454.4 1832.8L1347.5 1417.7A352.4 352.4 0 0 0 1460 1366.3Z" fill="#8181A9"/>
<path d="M1454.4 1832.8A781 781 0 0 1 1153.7 1850.3L1217.7 1382.3A308.6 308.6 0 0 0 1336.5 1375.3Z" fill="#8272F2"/>
<path d="M1153.7 1850.3A781 781 0 0 1 967.7 1800.9L1119.7 1423.7A374.3 374.3 0 0 0 1208.8 1447.3Z" fill="#9B93E1"/>
<path d="M967.7 1800.9A781 781 0 0 1 917.3 1778.6L1076.3 1452.3A418.1 418.1 0 0 0 1103.3 1464.3Z" fill="#D2D2DA"/>
<path d="M917.3 1778.6A781 781 0 0 1 677.1 1596.8L1013 1296.7A330.5 330.5 0 0 0 1114.7 1373.6Z" fill="#DEACEF"/>
<path d="M677.1 1596.8A781 781 0 0 1 500 1258.4L980.7 1143.3A286.7 286.7 0 0 0 1045.7 1267.5Z" fill="#FF62DE"/>
<path d="M500 1258.4A781 781 0 0 1 529.9 797.9L991.7 974.2A286.7 286.7 0 0 0 980.7 1143.3Z" fill="#FF9BDF"/>
<path d="M1220.9 1051.8A45.8 45.8 0 0 1 1301.1 1095.6M1220.9 1051.8L944.3 874.6M935.7 888.7A374.3 374.3 0 0 1 953.5 860.9M935.7 888.7L878.9 855.8M953.5 860.9L935.6 848.3M927.8 859.9A396.2 396.2 0 0 1 943.9 837M927.8 859.9L909.4 847.9M905.4 854.1A418.1 418.1 0 0 1 913.5 841.8M905.4 854.1L886.9 842.5M913.5 841.8L895.4 829.5M943.9 837L926.4 823.8M922 829.7A418.1 418.1 0 0 1 930.9 818M922 829.7L904.3 816.8M930.9 818L913.7 804.4M1229.1 1042.2L1214.6 1025.8M1208.6 1031.9A67.7 67.7 0 0 1 1221.4 1020.6M1208.6 1031.9L945.1 800.9M940.3 806.5A418.1 418.1 0 0 1 950 795.4M940.3 806.5L923.5 792.4M950 795.4L933.8 780.7M1221.4 1020.6L1209 1002.5M1195.3 1014A89.6 89.6 0 0 1 1224.7 993.9M1195.3 1014L944.4 769.4M1224.7 993.9L1216.2 973.7M1188 990.9A111.5 111.5 0 0 1 1248.2 965.6M1188 990.9L1047.7 822.8M1035.4 833.6A330.5 330.5 0 0 1 1060.5 812.6M1035.4 833.6L975.9 769.2M970.6 774.3A418.1 418.1 0 0 1 981.4 764.3M970.6 774.3L955.4 758.5M981.4 764.3L966.8 747.9M1060.5 812.6L1047.3 795.1M1034.5 805.2A352.4 352.4 0 0 1 1060.6 785.6M1034.5 805.2L978.6 737.8M1060.6 785.6L1048.2 767.5M1036.1 776.2A374.3 374.3 0 0 1 1060.7 759.4M1036.1 776.2L1010 741M1004.1 745.5A418.1 418.1 0 0 1 1016 736.7M1004.1 745.5L990.7 728.1M1016 736.7L1003.2 718.9M1060.7 759.4L1049 740.8M1040.2 746.5A396.2 396.2 0 0 1 1058 735.4M1040.2 746.5L1016 710M1058 735.4L1046.8 716.5M1040.5 720.3A418.1 418.1 0 0 1 1053.2 712.8M1040.5 720.3L1029.1 701.7M1053.2 712.8L1042.4 693.8M1248.2 965.6L1246 943.8M1208.1 953.4A133.4 133.4 0 0 1 1285.1 945.6M1208.1 953.4L1132.1 771.5M1111.9 780.8A330.5 330.5 0 0 1 1152.9 763.7M1111.9 780.8L1072.8 702.4M1066.2 705.8A418.1 418.1 0 0 1 1079.4 699.2M1066.2 705.8L1056.1 686.4M1079.4 699.2L1070 679.4M1152.9 763.7L1145.8 742.9M1127.6 749.7A352.4 352.4 0 0 1 1164.4 737.2M1127.6 749.7L1111.2 709.1M1101.5 713.1A396.2 396.2 0 0 1 1121 705.3M1101.5 713.1L1084.1 673M1121 705.3L1113.3 684.8M1106.4 687.4A418.1 418.1 0 0 1 1120.3 682.3M1106.4 687.4L1098.4 667M1120.3 682.3L1113 661.6M1164.4 737.2L1158.5 716.1M1147.4 719.4A374.3 374.3 0 0 1 1169.6 713.1M1147.4 719.4L1127.7 656.7M1169.6 713.1L1164.4 691.9M1154.2 694.5A396.2 396.2 0 0 1 1174.6 689.5M1154.2 694.5L1142.6 652.3M1174.6 689.5L1169.9 668.1M1162.7 669.8A418.1 418.1 0 0 1 1177.1 666.6M1162.7 669.8L1157.6 648.5M1177.1 666.6L1172.8 645.1M1285.1 945.6L1289.3 924.1M1239.4 922.5A155.3 155.3 0 0 1 1336.1 941.4M1239.4 922.5L1213.8 727.1M1202.3 728.8A352.4 352.4 0 0 1 1225.4 725.8M1202.3 728.8L1188.1 642.3M1225.4 725.8L1223.3 704M1211.8 705.3A374.3 374.3 0 0 1 1234.8 703M1211.8 705.3L1203.4 640.1M1234.8 703L1233.4 681.2M1222.9 682A396.2 396.2 0 0 1 1243.8 680.6M1222.9 682L1218.9 638.4M1243.8 680.6L1243 658.7M1235.6 659.1A418.1 418.1 0 0 1 1250.3 658.5M1235.6 659.1L1234.3 637.2M1250.3 658.5L1249.9 636.6M1336.1 941.4L1346.9 922.4M1293.1 902.5A177.2 177.2 0 0 1 1391.6 958.3M1293.1 902.5L1313.8 795M1280.7 790.6A286.7 286.7 0 0 1 1346.2 803.2M1280.7 790.6L1283.9 746.9M1269.7 746.2A330.5 330.5 0 0 1 1298.1 748.3M1269.7 746.2L1272.5 658.6M1265.1 658.4A418.1 418.1 0 0 1 1279.8 658.9M1265.1 658.4L1265.4 636.5M1279.8 658.9L1280.9 637M1298.1 748.3L1300.6 726.5M1289 725.3A352.4 352.4 0 0 1 1312.2 728.1M1289 725.3L1296.4 638M1312.2 728.1L1315.5 706.4M1304 704.9A374.3 374.3 0 0 1 1326.9 708.3M1304 704.9L1311.8 639.6M1326.9 708.3L1330.8 686.8M1320.5 685A396.2 396.2 0 0 1 1341.1 688.8M1320.5 685L1327.2 641.7M1341.1 688.8L1345.6 667.4M1338.4 665.9A418.1 418.1 0 0 1 1352.8 668.9M1338.4 665.9L1342.5 644.4M1352.8 668.9L1357.7 647.6M1346.2 803.2L1352.8 782.4M1338.9 778.3A308.6 308.6 0 0 1 1366.5 787M1338.9 778.3L1372.8 651.3M1366.5 787L1374.1 766.5M1355.8 760.3A330.5 330.5 0 0 1 1392 773.7M1355.8 760.3L1387.7 655.6M1392 773.7L1400.8 753.7M1382.8 746.4A352.4 352.4 0 0 1 1418.4 761.9M1382.8 746.4L1398.1 705.3M1388.2 701.8A396.2 396.2 0 0 1 1407.9 709.1M1388.2 701.8L1402.5 660.4M1407.9 709.1L1416.1 688.8M1409.2 686.1A418.1 418.1 0 0 1 1422.9 691.7M1409.2 686.1L1417.1 665.7M1422.9 691.7L1431.5 671.5M1418.4 761.9L1428.2 742.4M1417.9 737.3A374.3 374.3 0 0 1 1438.5 747.8M1417.9 737.3L1445.6 677.8M1438.5 747.8L1449 728.5M1439.7 723.6A396.2 396.2 0 0 1 1458.1 733.7M1439.7 723.6L1459.6 684.6M1458.1 733.7L1469.1 714.7M1462.7 711.1A418.1 418.1 0 0 1 1475.4 718.5M1462.7 711.1L1473.3 691.9M1475.4 718.5L1486.7 699.7M1391.6 958.3L1407.9 943.7M1381.5 919.2A199.1 199.1 0 0 1 1429.4 972.7M1381.5 919.2L1475.4 798M1459.8 786.5A352.4 352.4 0 0 1 1490.5 810.3M1459.8 786.5L1484.7 750.5M1476 744.7A396.2 396.2 0 0 1 1493.2 756.6M1476 744.7L1499.9 708M1493.2 756.6L1506.1 738.9M1500.1 734.6A418.1 418.1 0 0 1 1512 743.3M1500.1 734.6L1512.7 716.7M1512 743.3L1525.3 725.8M1490.5 810.3L1504.8 793.8M1496 786.4A374.3 374.3 0 0 1 1513.4 801.5M1496 786.4L1537.5 735.4M1513.4 801.5L1528.3 785.4M1520.5 778.4A396.2 396.2 0 0 1 1535.9 792.6M1520.5 778.4L1549.3 745.5M1535.9 792.6L1551.2 776.9M1545.8 771.8A418.1 418.1 0 0 1 1556.4 782.1M1545.8 771.8L1560.8 755.9M1556.4 782.1L1572 766.7M1429.4 972.7L1448.1 961.3M1426.4 931.6A221 221 0 0 1 1464.6 994.1M1426.4 931.6L1542.1 831.1M1534.4 822.5A374.3 374.3 0 0 1 1549.6 840M1534.4 822.5L1582.7 777.9M1549.6 840L1566.6 826.1M1559.8 818.1A396.2 396.2 0 0 1 1573.1 834.3M1559.8 818.1L1593 789.5M1573.1 834.3L1590.4 821M1585.9 815.2A418.1 418.1 0 0 1 1594.9 826.8M1585.9 815.2L1602.9 801.5M1594.9 826.8L1612.4 813.8M1464.6 994.1L1484.9 985.9M1473.6 961.7A242.9 242.9 0 0 1 1493.4 1011.2M1473.6 961.7L1570.1 910M1558 889.1A352.4 352.4 0 0 1 1580.7 931.6M1558 889.1L1595.1 865.9M1589.4 857.1A396.2 396.2 0 0 1 1600.5 874.8M1589.4 857.1L1607.6 844.9M1603.5 838.8A418.1 418.1 0 0 1 1611.6 851.1M1603.5 838.8L1621.5 826.4M1611.6 851.1L1630.1 839.3M1600.5 874.8L1638.2 852.5M1580.7 931.6L1600.7 922.6M1592.8 906.2A374.3 374.3 0 0 1 1607.7 939.3M1592.8 906.2L1612.3 896.2M1607.4 887A396.2 396.2 0 0 1 1617 905.6M1607.4 887L1645.9 866M1617 905.6L1636.7 896.2M1633.5 889.6A418.1 418.1 0 0 1 1639.8 902.9M1633.5 889.6L1653.1 879.8M1639.8 902.9L1659.8 893.8M1607.7 939.3L1648.5 923.3M1645.7 916.4A418.1 418.1 0 0 1 1651.1 930.1M1645.7 916.4L1666 908M1651.1 930.1L1671.7 922.5M1493.4 1011.2L1514.5 1005.3M1510.7 992.6A264.8 264.8 0 0 1 1517.8 1018.1M1510.7 992.6L1676.8 937.1M1517.8 1018.1L1539.1 1013.3M1535.9 1000.2A286.7 286.7 0 0 1 1541.8 1026.5M1535.9 1000.2L1662.5 965.2M1660.5 958.1A418.1 418.1 0 0 1 1664.4 972.3M1660.5 958.1L1681.5 951.9M1664.4 972.3L1685.6 966.9M1541.8 1026.5L1563.4 1022.7M1560.9 1010.2A308.6 308.6 0 0 1 1565.3 1035.3M1560.9 1010.2L1689.2 982M1565.3 1035.3L1587 1032.4M1584.6 1016.9A330.5 330.5 0 0 1 1588.8 1048M1584.6 1016.9L1692.3 997.2M1588.8 1048L1610.6 1046.1M1609 1031.4A352.4 352.4 0 0 1 1611.6 1060.8M1609 1031.4L1674.2 1023M1673.2 1015.7A418.1 418.1 0 0 1 1675 1030.3M1673.2 1015.7L1694.8 1012.5M1675 1030.3L1696.8 1027.9M1611.6 1060.8L1633.4 1059.9M1632.7 1048.3A374.3 374.3 0 0 1 1633.8 1071.4M1632.7 1048.3L1698.3 1043.4M1633.8 1071.4L1655.7 1071.1M1655.4 1060.6A396.2 396.2 0 0 1 1655.7 1081.6M1655.4 1060.6L1699.1 1058.9M1655.7 1081.6L1677.6 1081.9M1677.6 1074.5A418.1 418.1 0 0 1 1677.4 1089.3M1677.6 1074.5L1699.5 1074.4M1677.4 1089.3L1699.3 1089.9M1301.1 1095.6L1360.8 1123M1370.6 1085.8A111.5 111.5 0 0 1 1339 1154.7M1370.6 1085.8L1676.1 1111.4M1676.7 1104A418.1 418.1 0 0 1 1675.5 1118.7M1676.7 1104L1698.5 1105.4M1675.5 1118.7L1697.3 1120.9M1339 1154.7L1354.6 1170.1M1385.1 1121.4A133.4 133.4 0 0 1 1306.4 1201.4M1385.1 1121.4L1529.5 1173M1539.6 1137.9A286.7 286.7 0 0 1 1515 1206.5M1539.6 1137.9L1625.1 1156.6M1628.8 1137.2A374.3 374.3 0 0 1 1620.4 1175.9M1628.8 1137.2L1650.5 1140.7M1652 1130.4A396.2 396.2 0 0 1 1648.6 1151.1M1652 1130.4L1695.4 1136.3M1648.6 1151.1L1670.1 1155.2M1671.5 1147.9A418.1 418.1 0 0 1 1668.7 1162.4M1671.5 1147.9L1693 1151.7M1668.7 1162.4L1690.1 1166.9M1620.4 1175.9L1641.5 1181.7M1644.1 1171.5A396.2 396.2 0 0 1 1638.6 1191.8M1644.1 1171.5L1686.7 1182.1M1638.6 1191.8L1659.5 1198.1M1661.6 1191.1A418.1 418.1 0 0 1 1657.3 1205.2M1661.6 1191.1L1682.7 1197.1M1657.3 1205.2L1678.1 1211.9M1515 1206.5L1534.6 1216.4M1547.7 1186.9A308.6 308.6 0 0 1 1518.4 1244.4M1547.7 1186.9L1649.9 1226M1652.5 1219.1A418.1 418.1 0 0 1 1647.2 1232.9M1652.5 1219.1L1673.1 1226.6M1647.2 1232.9L1667.6 1241.1M1518.4 1244.4L1536.8 1256.3M1553.6 1227.3A330.5 330.5 0 0 1 1517.2 1283.5M1553.6 1227.3L1573.1 1237.3M1581.5 1219.8A352.4 352.4 0 0 1 1563.7 1254.3M1581.5 1219.8L1661.5 1255.4M1563.7 1254.3L1582.6 1265.4M1591.4 1249.5A374.3 374.3 0 0 1 1573.1 1280.8M1591.4 1249.5L1610.8 1259.6M1615.6 1250.3A396.2 396.2 0 0 1 1605.9 1268.8M1615.6 1250.3L1654.9 1269.5M1605.9 1268.8L1625 1279.5M1628.5 1273A418.1 418.1 0 0 1 1621.4 1285.9M1628.5 1273L1647.9 1283.3M1621.4 1285.9L1640.3 1296.9M1573.1 1280.8L1609.8 1304.7M1613.8 1298.5A418.1 418.1 0 0 1 1605.7 1310.9M1613.8 1298.5L1632.3 1310.2M1605.7 1310.9L1623.9 1323.2M1517.2 1283.5L1534.2 1297.2M1544.2 1284.2A352.4 352.4 0 0 1 1523.7 1309.7M1544.2 1284.2L1614.9 1335.9M1523.7 1309.7L1540.1 1324.2M1549.8 1312.8A374.3 374.3 0 0 1 1530.1 1335.1M1549.8 1312.8L1583.7 1340.5M1588.3 1334.7A418.1 418.1 0 0 1 1579 1346.2M1588.3 1334.7L1605.6 1348.2M1579 1346.2L1595.7 1360.3M1530.1 1335.1L1545.9 1350.2M1553.1 1342.6A396.2 396.2 0 0 1 1538.6 1357.7M1553.1 1342.6L1585.5 1372M1538.6 1357.7L1554 1373.3M1559.2 1368A418.1 418.1 0 0 1 1548.7 1378.4M1559.2 1368L1574.9 1383.3M1548.7 1378.4L1563.9 1394.2M1306.4 1201.4L1314.1 1221.9M1360.8 1194.2A155.3 155.3 0 0 1 1260.7 1231.8M1360.8 1194.2L1532.4 1393.3M1537.9 1388.4A418.1 418.1 0 0 1 1526.7 1398.1M1537.9 1388.4L1552.5 1404.8M1526.7 1398.1L1540.7 1414.9M1260.7 1231.8L1260.9 1253.7M1339.5 1234.6A177.2 177.2 0 0 1 1181.9 1235.8M1339.5 1234.6L1379.1 1312.7M1417.7 1288.8A264.8 264.8 0 0 1 1337 1329.7M1417.7 1288.8L1509.3 1411.7M1515.2 1407.3A418.1 418.1 0 0 1 1503.4 1416.1M1515.2 1407.3L1528.6 1424.6M1503.4 1416.1L1516.2 1433.9M1337 1329.7L1343.4 1350.7M1384.4 1334.6A286.7 286.7 0 0 1 1300.4 1360.3M1384.4 1334.6L1413 1393.7M1439 1379.7A352.4 352.4 0 0 1 1385.9 1405.4M1439 1379.7L1461.4 1417.4M1473.3 1410.1A396.2 396.2 0 0 1 1449.2 1424.3M1473.3 1410.1L1485.1 1428.5M1491.2 1424.5A418.1 418.1 0 0 1 1478.8 1432.5M1491.2 1424.5L1503.4 1442.7M1478.8 1432.5L1490.3 1451.1M1449.2 1424.3L1459.7 1443.6M1466.1 1440A418.1 418.1 0 0 1 1453.2 1447M1466.1 1440L1477 1459M1453.2 1447L1463.3 1466.4M1385.9 1405.4L1393.8 1425.9M1412.1 1418.3A374.3 374.3 0 0 1 1375.1 1432.5M1412.1 1418.3L1421 1438.3M1430.5 1433.9A396.2 396.2 0 0 1 1411.4 1442.4M1430.5 1433.9L1449.4 1473.4M1411.4 1442.4L1419.8 1462.7M1426.6 1459.8A418.1 418.1 0 0 1 1412.9 1465.4M1426.6 1459.8L1435.3 1479.8M1412.9 1465.4L1421 1485.8M1375.1 1432.5L1381.9 1453.3M1391.8 1450A396.2 396.2 0 0 1 1371.9 1456.4M1391.8 1450L1406.4 1491.2M1371.9 1456.4L1378.1 1477.4M1385.1 1475.3A418.1 418.1 0 0 1 1371 1479.5M1385.1 1475.3L1391.7 1496.2M1371 1479.5L1376.8 1500.6M1300.4 1360.3L1303.5 1381.9M1323.3 1378.4A308.6 308.6 0 0 1 1283.6 1384.2M1323.3 1378.4L1341.4 1464.1M1351.6 1461.8A396.2 396.2 0 0 1 1331.1 1466.2M1351.6 1461.8L1361.8 1504.4M1331.1 1466.2L1335 1487.7M1342.3 1486.3A418.1 418.1 0 0 1 1327.8 1489M1342.3 1486.3L1346.6 1507.8M1327.8 1489L1331.4 1510.6M1283.6 1384.2L1285.3 1406M1301.9 1404.3A330.5 330.5 0 0 1 1268.5 1406.9M1301.9 1404.3L1316 1512.9M1268.5 1406.9L1269.1 1428.8M1286.2 1427.9A352.4 352.4 0 0 1 1252 1428.8M1286.2 1427.9L1291.2 1493.4M1298.5 1492.8A418.1 418.1 0 0 1 1283.8 1493.9M1298.5 1492.8L1300.6 1514.6M1283.8 1493.9L1285.1 1515.8M1252 1428.8L1251.6 1450.7M1268.1 1450.7A374.3 374.3 0 0 1 1235.1 1450M1268.1 1450.7L1269.6 1516.4M1235.1 1450L1233.6 1471.9M1247.6 1472.5A396.2 396.2 0 0 1 1219.7 1470.7M1247.6 1472.5L1246.9 1494.4M1254.3 1494.6A418.1 418.1 0 0 1 1239.6 1494.1M1254.3 1494.6L1254 1516.5M1239.6 1494.1L1238.5 1516M1219.7 1470.7L1217.5 1492.5M1224.9 1493.2A418.1 418.1 0 0 1 1210.2 1491.7M1224.9 1493.2L1223 1515M1210.2 1491.7L1207.6 1513.4M1181.9 1235.8L1172.3 1255.5M1211 1269.6A199.1 199.1 0 0 1 1137.4 1233.7M1211 1269.6L1168.3 1439.5M1192.5 1444.8A374.3 374.3 0 0 1 1144.5 1432.7M1192.5 1444.8L1188.6 1466.3M1198.9 1468A396.2 396.2 0 0 1 1178.3 1464.3M1198.9 1468L1192.2 1511.3M1178.3 1464.3L1173.8 1485.7M1181 1487.2A418.1 418.1 0 0 1 1166.6 1484.1M1181 1487.2L1176.9 1508.7M1166.6 1484.1L1161.7 1505.5M1144.5 1432.7L1137.8 1453.5M1151.1 1457.6A396.2 396.2 0 0 1 1124.5 1449M1151.1 1457.6L1145.1 1478.7M1152.3 1480.6A418.1 418.1 0 0 1 1138.1 1476.6M1152.3 1480.6L1146.6 1501.8M1138.1 1476.6L1131.7 1497.5M1124.5 1449L1117.1 1469.6M1124 1472A418.1 418.1 0 0 1 1110.2 1467M1124 1472L1116.9 1492.8M1110.2 1467L1102.3 1487.5M1137.4 1233.7L1123.9 1251M1169.7 1278.5A221 221 0 0 1 1086 1213.4M1169.7 1278.5L1089.7 1458.6M1096.5 1461.5A418.1 418.1 0 0 1 1083 1455.5M1096.5 1461.5L1087.9 1481.7M1083 1455.5L1073.7 1475.4M1086 1213.4L1068.9 1227M1123.6 1277.9A242.9 242.9 0 0 1 1032.1 1161.9M1123.6 1277.9L1074.7 1350.5M1101.7 1366.9A330.5 330.5 0 0 1 1049.3 1331.5M1101.7 1366.9L1070.4 1424.7M1079.7 1429.5A396.2 396.2 0 0 1 1061.2 1419.5M1079.7 1429.5L1059.8 1468.6M1061.2 1419.5L1050.3 1438.5M1056.7 1442.1A418.1 418.1 0 0 1 1043.9 1434.7M1056.7 1442.1L1046.1 1461.3M1043.9 1434.7L1032.6 1453.5M1049.3 1331.5L1035.3 1348.4M1051.9 1361.3A352.4 352.4 0 0 1 1019.5 1334.6M1051.9 1361.3L1026.1 1396.7M1037.5 1404.7A396.2 396.2 0 0 1 1015 1388.2M1037.5 1404.7L1025.3 1422.8M1031.4 1426.9A418.1 418.1 0 0 1 1019.2 1418.6M1031.4 1426.9L1019.5 1445.3M1019.2 1418.6L1006.6 1436.6M1015 1388.2L1001.4 1405.5M1007.3 1410A418.1 418.1 0 0 1 995.7 1400.9M1007.3 1410L994.1 1427.4M995.7 1400.9L981.9 1417.8M1019.5 1334.6L1004.6 1350.6M1013.2 1358.4A374.3 374.3 0 0 1 996.3 1342.6M1013.2 1358.4L970 1407.8M996.3 1342.6L980.9 1358.2M988.4 1365.5A396.2 396.2 0 0 1 973.5 1350.7M988.4 1365.5L958.5 1397.4M973.5 1350.7L957.7 1365.9M962.9 1371.2A418.1 418.1 0 0 1 952.7 1360.5M962.9 1371.2L947.3 1386.6M952.7 1360.5L936.6 1375.4M1032.1 1161.9L1011.6 1169.6M1040 1224.7A264.8 264.8 0 0 1 996.8 1109.5M1040 1224.7L1021.9 1236.9M1039.1 1259.8A286.7 286.7 0 0 1 1007 1212.4M1039.1 1259.8L938.1 1343.9M942.8 1349.5A418.1 418.1 0 0 1 933.4 1338.2M942.8 1349.5L926.3 1363.8M933.4 1338.2L916.3 1351.9M1007 1212.4L987.8 1222.7M1002 1246.5A308.6 308.6 0 0 1 975.7 1197.8M1002 1246.5L947.1 1282.7M955.6 1295A374.3 374.3 0 0 1 939.2 1270.2M955.6 1295L920 1320.5M924.4 1326.5A418.1 418.1 0 0 1 915.8 1314.5M924.4 1326.5L906.8 1339.6M915.8 1314.5L897.8 1327M939.2 1270.2L920.5 1281.5M926 1290.4A396.2 396.2 0 0 1 915.2 1272.5M926 1290.4L889.1 1314.1M915.2 1272.5L896.1 1283.3M899.8 1289.7A418.1 418.1 0 0 1 892.5 1276.9M899.8 1289.7L881 1300.9M892.5 1276.9L873.3 1287.4M975.7 1197.8L955.6 1206.4M961.5 1219.3A330.5 330.5 0 0 1 950.3 1193.2M961.5 1219.3L882.5 1257.2M885.7 1263.8A418.1 418.1 0 0 1 879.3 1250.5M885.7 1263.8L866.1 1273.6M879.3 1250.5L859.4 1259.6M950.3 1193.2L929.8 1200.9M934.1 1211.8A352.4 352.4 0 0 1 925.9 1189.9M934.1 1211.8L853.2 1245.4M925.9 1189.9L905.1 1197M909 1207.9A374.3 374.3 0 0 1 901.6 1186M909 1207.9L847.5 1230.9M901.6 1186L880.6 1192.4M883.8 1202.4A396.2 396.2 0 0 1 877.7 1182.3M883.8 1202.4L842.3 1216.3M877.7 1182.3L856.6 1188.2M858.6 1195.3A418.1 418.1 0 0 1 854.7 1181.1M858.6 1195.3L837.6 1201.5M854.7 1181.1L833.5 1186.5M996.8 1109.5L975 1112.2M978.5 1133.4A286.7 286.7 0 0 1 973.2 1090.8M978.5 1133.4L849.7 1159.5M851.2 1166.7A418.1 418.1 0 0 1 848.3 1152.3M851.2 1166.7L829.9 1171.4M848.3 1152.3L826.8 1156.2M973.2 1090.8L951.3 1091.9M954.2 1121.7A308.6 308.6 0 0 1 951.2 1061.9M954.2 1121.7L824.2 1140.9M951.2 1061.9L929.4 1060.9M930.1 1103.2A330.5 330.5 0 0 1 934.1 1018.9M930.1 1103.2L886.4 1106.7M887.5 1118.2A374.3 374.3 0 0 1 885.7 1095.2M887.5 1118.2L822.2 1125.5M885.7 1095.2L863.8 1096.2M864.5 1106.7A396.2 396.2 0 0 1 863.4 1085.8M864.5 1106.7L820.8 1110M863.4 1085.8L841.5 1086.3M841.8 1093.7A418.1 418.1 0 0 1 841.4 1078.9M841.8 1093.7L819.9 1094.6M841.4 1078.9L819.5 1079M934.1 1018.9L912.5 1015.1M908.4 1045.9A352.4 352.4 0 0 1 919.2 984.8M908.4 1045.9L886.6 1044M885.6 1058.8A374.3 374.3 0 0 1 888.2 1029.2M885.6 1058.8L841.9 1056.8M841.6 1064.2A418.1 418.1 0 0 1 842.3 1049.4M841.6 1064.2L819.7 1063.5M842.3 1049.4L820.4 1048M888.2 1029.2L866.5 1026.5M865.3 1036.9A396.2 396.2 0 0 1 867.9 1016.1M865.3 1036.9L821.7 1032.5M867.9 1016.1L846.3 1012.8M845.2 1020.1A418.1 418.1 0 0 1 847.5 1005.5M845.2 1020.1L823.5 1017.1M847.5 1005.5L825.9 1001.8M919.2 984.8L898.1 979.1M894.5 993.5A374.3 374.3 0 0 1 902.3 964.8M894.5 993.5L851.8 983.8M850.2 991A418.1 418.1 0 0 1 853.5 976.6M850.2 991L828.8 986.5M853.5 976.6L832.2 971.4M902.3 964.8L881.4 958.3M878.4 968.3A396.2 396.2 0 0 1 884.6 948.3M878.4 968.3L836.2 956.4M884.6 948.3L863.9 941.2M861.6 948.2A418.1 418.1 0 0 1 866.3 934.3M861.6 948.2L840.7 941.5M866.3 934.3L845.7 926.8M1281 1036.1L1271.6 1056" fill="none" stroke="#111" stroke-width="1.7" stroke-linejoin="miter"/>
<g font-family="'Liberation Sans',Arial,sans-serif" font-size="21.7" fill="#000" fill-opacity="0.85" stroke="#000" stroke-opacity="0.55" stroke-width="0.45">
<text transform="translate(877.1 854.8) rotate(30.1)" text-anchor="end" dy="0.35em">OS02G0699800|WAK17</text>
<text transform="translate(885.2 841.4) rotate(32.1)" text-anchor="end" dy="0.35em">OS10G0162836</text>
<text transform="translate(893.7 828.3) rotate(34.2)" text-anchor="end" dy="0.35em">OS04G0598500|WAK53</text>
<text transform="translate(902.7 815.6) rotate(36.2)" text-anchor="end" dy="0.35em">OS06G0364500</text>
<text transform="translate(912.1 803.2) rotate(38.2)" text-anchor="end" dy="0.35em">OS05G0409100</text>
<text transform="translate(922 791.1) rotate(40.2)" text-anchor="end" dy="0.35em">OS11G0565300|WAK120</text>
<text transform="translate(932.3 779.4) rotate(42.2)" text-anchor="end" dy="0.35em">OS12G0614900|WAK129</text>
<text transform="translate(943 768) rotate(44.3)" text-anchor="end" dy="0.35em">OS07G0169300|WAK68</text>
<text transform="translate(954 757) rotate(46.3)" text-anchor="end" dy="0.35em">OS11G0694150|WAK131</text>
<text transform="translate(965.5 746.4) rotate(48.3)" text-anchor="end" dy="0.35em">OS04G0220300|WAK30|WAK31</text>
<text transform="translate(977.3 736.3) rotate(50.3)" text-anchor="end" dy="0.35em">OS04G0310400|WAK32</text>
<text transform="translate(989.5 726.5) rotate(52.4)" text-anchor="end" dy="0.35em">OS04G0365100</text>
<text transform="translate(1002 717.2) rotate(54.4)" text-anchor="end" dy="0.35em">OS04G0367201|WAK40</text>
<text transform="translate(1014.9 708.4) rotate(56.4)" text-anchor="end" dy="0.35em">OS10G0178800|WAK105</text>
<text transform="translate(1028 700) rotate(58.4)" text-anchor="end" dy="0.35em">OS04G0307500|WAK33</text>
<text transform="translate(1041.4 692) rotate(60.4)" text-anchor="end" dy="0.35em">OS04G0286300|WAK29</text>
<text transform="translate(1055.1 684.6) rotate(62.5)" text-anchor="end" dy="0.35em">OS04G0651200|WAK52</text>
<text transform="translate(1069.1 677.6) rotate(64.5)" text-anchor="end" dy="0.35em">OS04G0651500|WAK54</text>
<text transform="translate(1083.3 671.1) rotate(66.5)" text-anchor="end" dy="0.35em">OS12G0478400|WAK127</text>
<text transform="translate(1097.7 665.2) rotate(68.5)" text-anchor="end" dy="0.35em">OS08G0501700|WAK75</text>
<text transform="translate(1112.3 659.7) rotate(70.5)" text-anchor="end" dy="0.35em">OS08G0378000</text>
<text transform="translate(1127.1 654.8) rotate(72.6)" text-anchor="end" dy="0.35em">OS12G0266200|WAK125</text>
<text transform="translate(1142.1 650.4) rotate(74.6)" text-anchor="end" dy="0.35em" font-weight="bold" fill-opacity="1">OS09G0561600|WAK91</text>
<text transform="translate(1157.2 646.5) rotate(76.6)" text-anchor="end" dy="0.35em">OS09G0561482|WAK87</text>
<text transform="translate(1172.4 643.2) rotate(78.6)" text-anchor="end" dy="0.35em">OS09G0561000|WAK86</text>
<text transform="translate(1187.7 640.4) rotate(80.7)" text-anchor="end" dy="0.35em">OS10G0174933|WAK103</text>
<text transform="translate(1203.2 638.1) rotate(82.7)" text-anchor="end" dy="0.35em">OS10G0175600|WAK107</text>
<text transform="translate(1218.7 636.4) rotate(84.7)" text-anchor="end" dy="0.35em">OS10G0174548|WAK106|WAK108</text>
<text transform="translate(1234.2 635.2) rotate(86.7)" text-anchor="end" dy="0.35em">OS10G0116701|WAK94</text>
<text transform="translate(1249.8 634.6) rotate(88.7)" text-anchor="end" dy="0.35em">OS10G0174800|WAK104</text>
<text transform="translate(1265.4 634.5) rotate(-89.2)" text-anchor="start" dy="0.35em">OS03G0643200|WAK26</text>
<text transform="translate(1281 635) rotate(-87.2)" text-anchor="start" dy="0.35em">OS03G0642600|WAK27</text>
<text transform="translate(1296.6 636.1) rotate(-85.2)" text-anchor="start" dy="0.35em">OS12G0614800|WAK126</text>
<text transform="translate(1312.1 637.6) rotate(-83.2)" text-anchor="start" dy="0.35em">OS12G0615000</text>
<text transform="translate(1327.5 639.8) rotate(-81.1)" text-anchor="start" dy="0.35em">OS12G0615100|WAK128</text>
<text transform="translate(1342.9 642.4) rotate(-79.1)" text-anchor="start" dy="0.35em">OS12G0615300|WAK129</text>
<text transform="translate(1358.2 645.7) rotate(-77.1)" text-anchor="start" dy="0.35em">OS12G0614851|WAK126</text>
<text transform="translate(1373.3 649.4) rotate(-75.1)" text-anchor="start" dy="0.35em">OS11G0693700|WAK121</text>
<text transform="translate(1388.3 653.7) rotate(-73.1)" text-anchor="start" dy="0.35em">OS11G0691790</text>
<text transform="translate(1403.1 658.5) rotate(-71)" text-anchor="start" dy="0.35em">OS11G0690066</text>
<text transform="translate(1417.8 663.8) rotate(-69)" text-anchor="start" dy="0.35em">OS11G0691500</text>
<text transform="translate(1432.2 669.7) rotate(-67)" text-anchor="start" dy="0.35em">OS11G0691280</text>
<text transform="translate(1446.5 676) rotate(-65)" text-anchor="start" dy="0.35em">OS11G0694100|WAK123</text>
<text transform="translate(1460.5 682.9) rotate(-62.9)" text-anchor="start" dy="0.35em">OS11G0691600</text>
<text transform="translate(1474.3 690.2) rotate(-60.9)" text-anchor="start" dy="0.35em">OS11G0690332</text>
<text transform="translate(1487.8 698) rotate(-58.9)" text-anchor="start" dy="0.35em">OS11G0691400</text>
<text transform="translate(1501 706.3) rotate(-56.9)" text-anchor="start" dy="0.35em">OS10G0103000|WAK78|WAK115</text>
<text transform="translate(1513.9 715) rotate(-54.9)" text-anchor="start" dy="0.35em">OS02G0807950|WAK21</text>
<text transform="translate(1526.5 724.2) rotate(-52.8)" text-anchor="start" dy="0.35em">OS02G0808300|WAK23</text>
<text transform="translate(1538.7 733.9) rotate(-50.8)" text-anchor="start" dy="0.35em">OS07G0248500|WAK67</text>
<text transform="translate(1550.7 743.9) rotate(-48.8)" text-anchor="start" dy="0.35em">OS10G0326100|WAK113</text>
<text transform="translate(1562.2 754.4) rotate(-46.8)" text-anchor="start" dy="0.35em">OS01G0162840</text>
<text transform="translate(1573.4 765.3) rotate(-44.8)" text-anchor="start" dy="0.35em">OS01G0162844</text>
<text transform="translate(1584.2 776.6) rotate(-42.7)" text-anchor="start" dy="0.35em">OS09G0471600|WAK84</text>
<text transform="translate(1594.5 788.2) rotate(-40.7)" text-anchor="start" dy="0.35em">OS09G0471800|WAK85</text>
<text transform="translate(1604.5 800.2) rotate(-38.7)" text-anchor="start" dy="0.35em">OS09G0471500|WAK82</text>
<text transform="translate(1614 812.6) rotate(-36.7)" text-anchor="start" dy="0.35em">OS09G0471550|WAK83</text>
<text transform="translate(1623.1 825.2) rotate(-34.6)" text-anchor="start" dy="0.35em">OS02G0623600|WAK12</text>
<text transform="translate(1631.8 838.2) rotate(-32.6)" text-anchor="start" dy="0.35em">OS02G0624100|WAK13</text>
<text transform="translate(1639.9 851.5) rotate(-30.6)" text-anchor="start" dy="0.35em">OS04G0366401|WAK39</text>
<text transform="translate(1647.6 865.1) rotate(-28.6)" text-anchor="start" dy="0.35em">OS04G0365100|WAK37</text>
<text transform="translate(1654.9 878.9) rotate(-26.6)" text-anchor="start" dy="0.35em">OS04G0366000|WAK38</text>
<text transform="translate(1661.6 893) rotate(-24.5)" text-anchor="start" dy="0.35em">OS04G0275100</text>
<text transform="translate(1667.8 907.3) rotate(-22.5)" text-anchor="start" dy="0.35em">OS04G0371100|WAK47</text>
<text transform="translate(1673.5 921.8) rotate(-20.5)" text-anchor="start" dy="0.35em">OS04G0369600</text>
<text transform="translate(1678.7 936.5) rotate(-18.5)" text-anchor="start" dy="0.35em">OS04G0367900</text>
<text transform="translate(1683.4 951.4) rotate(-16.4)" text-anchor="start" dy="0.35em">OS04G0372000|WAK58</text>
<text transform="translate(1687.6 966.4) rotate(-14.4)" text-anchor="start" dy="0.35em">OS04G0371275|WAK48</text>
<text transform="translate(1691.2 981.6) rotate(-12.4)" text-anchor="start" dy="0.35em">OS04G0368800|WAK45</text>
<text transform="translate(1694.3 996.8) rotate(-10.4)" text-anchor="start" dy="0.35em">OS04G0371000</text>
<text transform="translate(1696.8 1012.2) rotate(-8.4)" text-anchor="start" dy="0.35em">OS04G0370900|WAK60</text>
<text transform="translate(1698.8 1027.7) rotate(-6.3)" text-anchor="start" dy="0.35em">OS04G0370100|WAK46</text>
<text transform="translate(1700.2 1043.2) rotate(-4.3)" text-anchor="start" dy="0.35em">OS04G0369000|WAK43</text>
<text transform="translate(1701.1 1058.8) rotate(-2.3)" text-anchor="start" dy="0.35em">OS04G0372100|WAK49|WAK57</text>
<text transform="translate(1701.5 1074.4) rotate(-0.3)" text-anchor="start" dy="0.35em">OS04G0367600|WAK42</text>
<text transform="translate(1701.3 1090) rotate(1.7)" text-anchor="start" dy="0.35em">OS04G0368300|WAK44</text>
<text transform="translate(1700.5 1105.6) rotate(3.8)" text-anchor="start" dy="0.35em">OS12G0615200|WAK129</text>
<text transform="translate(1699.2 1121.1) rotate(5.8)" text-anchor="start" dy="0.35em">OS03G0643250|WAK26</text>
<text transform="translate(1697.4 1136.6) rotate(7.8)" text-anchor="start" dy="0.35em">OS01G0137282</text>
<text transform="translate(1695 1152) rotate(9.8)" text-anchor="start" dy="0.35em">OS01G0136700</text>
<text transform="translate(1692.1 1167.3) rotate(11.9)" text-anchor="start" dy="0.35em">OS01G0137700</text>
<text transform="translate(1688.6 1182.5) rotate(13.9)" text-anchor="start" dy="0.35em">OS01G0136500</text>
<text transform="translate(1684.6 1197.6) rotate(15.9)" text-anchor="start" dy="0.35em">OS01G0136450</text>
<text transform="translate(1680 1212.5) rotate(17.9)" text-anchor="start" dy="0.35em">OS01G0137200</text>
<text transform="translate(1675 1227.3) rotate(19.9)" text-anchor="start" dy="0.35em">OS11G0690200</text>
<text transform="translate(1669.4 1241.8) rotate(22)" text-anchor="start" dy="0.35em">OS01G0117266</text>
<text transform="translate(1663.3 1256.2) rotate(24)" text-anchor="start" dy="0.35em">OS01G0115566</text>
<text transform="translate(1656.7 1270.3) rotate(26)" text-anchor="start" dy="0.35em">OS01G0114100</text>
<text transform="translate(1649.6 1284.2) rotate(28)" text-anchor="start" dy="0.35em">OS01G0113300</text>
<text transform="translate(1642.1 1297.9) rotate(30.1)" text-anchor="start" dy="0.35em">OS01G0117000</text>
<text transform="translate(1634 1311.2) rotate(32.1)" text-anchor="start" dy="0.35em">OS01G0117200</text>
<text transform="translate(1625.5 1324.3) rotate(34.1)" text-anchor="start" dy="0.35em">OS11G0690800</text>
<text transform="translate(1616.5 1337.1) rotate(36.1)" text-anchor="start" dy="0.35em">OS11G0690900</text>
<text transform="translate(1607.1 1349.5) rotate(38.1)" text-anchor="start" dy="0.35em">OS01G0115600</text>
<text transform="translate(1597.3 1361.6) rotate(40.2)" text-anchor="start" dy="0.35em">OS01G0136900</text>
<text transform="translate(1587 1373.3) rotate(42.2)" text-anchor="start" dy="0.35em">OS01G0138400</text>
<text transform="translate(1576.3 1384.7) rotate(44.2)" text-anchor="start" dy="0.35em">OS01G0138300</text>
<text transform="translate(1565.3 1395.7) rotate(46.2)" text-anchor="start" dy="0.35em">OS01G0137400</text>
<text transform="translate(1553.8 1406.3) rotate(48.3)" text-anchor="start" dy="0.35em">OS02G0699900|WAK17</text>
<text transform="translate(1542 1416.4) rotate(50.3)" text-anchor="start" dy="0.35em">OS04G0308000|WAK35</text>
<text transform="translate(1529.8 1426.2) rotate(52.3)" text-anchor="start" dy="0.35em">OS04G0310500|WAK3</text>
<text transform="translate(1517.3 1435.5) rotate(54.3)" text-anchor="start" dy="0.35em">OS04G0310800|WAK4</text>
<text transform="translate(1504.5 1444.4) rotate(56.3)" text-anchor="start" dy="0.35em">OS07G0493800|WAK71</text>
<text transform="translate(1491.4 1452.8) rotate(58.4)" text-anchor="start" dy="0.35em">OS07G0494800|WAK69</text>
<text transform="translate(1477.9 1460.7) rotate(60.4)" text-anchor="start" dy="0.35em">OS07G0494300|WAK70</text>
<text transform="translate(1464.2 1468.2) rotate(62.4)" text-anchor="start" dy="0.35em">OS07G0493200|WAK72</text>
<text transform="translate(1450.3 1475.2) rotate(64.4)" text-anchor="start" dy="0.35em">OS10G0143866|WAK102</text>
<text transform="translate(1436.1 1481.7) rotate(66.4)" text-anchor="start" dy="0.35em">OS10G0553500|WAK116</text>
<text transform="translate(1421.7 1487.7) rotate(68.5)" text-anchor="start" dy="0.35em">OS10G0141300|WAK100</text>
<text transform="translate(1407.1 1493.1) rotate(70.5)" text-anchor="start" dy="0.35em">OS10G0112700|WAK98</text>
<text transform="translate(1392.3 1498.1) rotate(72.5)" text-anchor="start" dy="0.35em">OS10G0556600|WAK119</text>
<text transform="translate(1377.4 1502.5) rotate(74.5)" text-anchor="start" dy="0.35em">OS10G0555600|WAK117</text>
<text transform="translate(1362.3 1506.4) rotate(76.6)" text-anchor="start" dy="0.35em">OS11G0691100</text>
<text transform="translate(1347 1509.7) rotate(78.6)" text-anchor="start" dy="0.35em">OS11G0691650</text>
<text transform="translate(1331.7 1512.6) rotate(80.6)" text-anchor="start" dy="0.35em">OS11G0691300</text>
<text transform="translate(1316.3 1514.8) rotate(82.6)" text-anchor="start" dy="0.35em">OS10G0116600|WAK99</text>
<text transform="translate(1300.8 1516.6) rotate(84.6)" text-anchor="start" dy="0.35em">OS10G0111400|WAK95</text>
<text transform="translate(1285.2 1517.8) rotate(86.7)" text-anchor="start" dy="0.35em">OS10G0111900|WAK96|WAK97</text>
<text transform="translate(1269.6 1518.4) rotate(88.7)" text-anchor="start" dy="0.35em">OS10G0326200|WAK114</text>
<text transform="translate(1254 1518.5) rotate(270.7)" text-anchor="end" dy="0.35em">OS10G0152000|WAK111</text>
<text transform="translate(1238.4 1518) rotate(272.7)" text-anchor="end" dy="0.35em">OS10G0151100|WAK110</text>
<text transform="translate(1222.9 1517) rotate(274.8)" text-anchor="end" dy="0.35em">OS07G0248600|WAK108</text>
<text transform="translate(1207.4 1515.4) rotate(276.8)" text-anchor="end" dy="0.35em">OS10G0151500|WAK109</text>
<text transform="translate(1191.9 1513.3) rotate(278.8)" text-anchor="end" dy="0.35em">OS05G0318100</text>
<text transform="translate(1176.5 1510.6) rotate(280.8)" text-anchor="end" dy="0.35em">OS12G0595800</text>
<text transform="translate(1161.3 1507.4) rotate(282.8)" text-anchor="end" dy="0.35em">OS03G0225700|WAK28</text>
<text transform="translate(1146.1 1503.7) rotate(284.9)" text-anchor="end" dy="0.35em">OS01G0136400|WAK1</text>
<text transform="translate(1131.1 1499.4) rotate(286.9)" text-anchor="end" dy="0.35em">OS01G0136800|WAK2</text>
<text transform="translate(1116.3 1494.7) rotate(288.9)" text-anchor="end" dy="0.35em">OS05G0550800</text>
<text transform="translate(1101.6 1489.3) rotate(290.9)" text-anchor="end" dy="0.35em">OS01G0689900|WAK10</text>
<text transform="translate(1087.2 1483.5) rotate(293)" text-anchor="end" dy="0.35em">OS04G0598800</text>
<text transform="translate(1072.9 1477.2) rotate(295)" text-anchor="end" dy="0.35em">OS02G0699824|WAK20</text>
<text transform="translate(1058.9 1470.3) rotate(297)" text-anchor="end" dy="0.35em">OS02G0633066|WAK16</text>
<text transform="translate(1045.1 1463) rotate(299)" text-anchor="end" dy="0.35em">OS02G0632900|WAK15</text>
<text transform="translate(1031.6 1455.2) rotate(301)" text-anchor="end" dy="0.35em" font-weight="bold" fill-opacity="1">OS02G0632800|WAK14</text>
<text transform="translate(1018.4 1446.9) rotate(303.1)" text-anchor="end" dy="0.35em">OS10G0180800|WAK101</text>
<text transform="translate(1005.5 1438.2) rotate(305.1)" text-anchor="end" dy="0.35em">OS04G0308100|WAK36</text>
<text transform="translate(992.9 1429) rotate(307.1)" text-anchor="end" dy="0.35em">OS05G0135100|WAK56</text>
<text transform="translate(980.6 1419.4) rotate(309.1)" text-anchor="end" dy="0.35em">OS02G0632100</text>
<text transform="translate(968.7 1409.3) rotate(311.1)" text-anchor="end" dy="0.35em">OS03G0841100|WAK29</text>
<text transform="translate(957.1 1398.9) rotate(313.2)" text-anchor="end" dy="0.35em">OS01G0365000|WAK9</text>
<text transform="translate(945.9 1388) rotate(315.2)" text-anchor="end" dy="0.35em">OS04G0127500|WAK34</text>
<text transform="translate(935.1 1376.7) rotate(317.2)" text-anchor="end" dy="0.35em">OS01G0364400|WAK6</text>
<text transform="translate(924.7 1365.1) rotate(319.2)" text-anchor="end" dy="0.35em">OS04G0599000|WAK59</text>
<text transform="translate(914.8 1353.1) rotate(321.3)" text-anchor="end" dy="0.35em">OS04G0598900|WAK61</text>
<text transform="translate(905.2 1340.8) rotate(323.3)" text-anchor="end" dy="0.35em">OS08G0501200</text>
<text transform="translate(896.1 1328.1) rotate(325.3)" text-anchor="end" dy="0.35em">OS09G0339300|WAK81</text>
<text transform="translate(887.5 1315.1) rotate(327.3)" text-anchor="end" dy="0.35em">OS08G0501500|WAK74</text>
<text transform="translate(879.3 1301.9) rotate(329.3)" text-anchor="end" dy="0.35em">OS08G0501000</text>
<text transform="translate(871.6 1288.3) rotate(331.4)" text-anchor="end" dy="0.35em">OS08G0501088|WAK73</text>
<text transform="translate(864.3 1274.5) rotate(333.4)" text-anchor="end" dy="0.35em" font-weight="bold" fill-opacity="1">OS09G0562600|WAK92</text>
<text transform="translate(857.6 1260.4) rotate(335.4)" text-anchor="end" dy="0.35em">OS09G0482640|WAK93</text>
<text transform="translate(851.4 1246.1) rotate(337.4)" text-anchor="end" dy="0.35em">OS08G0501600|WAK76</text>
<text transform="translate(845.6 1231.6) rotate(339.5)" text-anchor="end" dy="0.35em">OS02G0807800|WAK19</text>
<text transform="translate(840.4 1216.9) rotate(341.5)" text-anchor="end" dy="0.35em">OS09G0561450|WAK87</text>
<text transform="translate(835.7 1202.1) rotate(343.5)" text-anchor="end" dy="0.35em">OS09G0561400|WAK89</text>
<text transform="translate(831.5 1187) rotate(345.5)" text-anchor="end" dy="0.35em">OS09G0561500|WAK88</text>
<text transform="translate(827.9 1171.9) rotate(347.5)" text-anchor="end" dy="0.35em">OS09G0373800|WAK90</text>
<text transform="translate(824.8 1156.6) rotate(349.6)" text-anchor="end" dy="0.35em">OS06G0142500|WAK79</text>
<text transform="translate(822.3 1141.2) rotate(351.6)" text-anchor="end" dy="0.35em">OS02G0111600|WAK9</text>
<text transform="translate(820.3 1125.7) rotate(353.6)" text-anchor="end" dy="0.35em">OS08G0365500|WAK77</text>
<text transform="translate(818.8 1110.2) rotate(355.6)" text-anchor="end" dy="0.35em">OS02G0807200|WAK18</text>
<text transform="translate(817.9 1094.6) rotate(357.6)" text-anchor="end" dy="0.35em">OS02G0811200|WAK24</text>
<text transform="translate(817.5 1079) rotate(359.7)" text-anchor="end" dy="0.35em">OS02G0808100|WAK22</text>
<text transform="translate(817.7 1063.4) rotate(1.7)" text-anchor="end" dy="0.35em">OS06G0169100|WAK62</text>
<text transform="translate(818.4 1047.9) rotate(3.7)" text-anchor="end" dy="0.35em">OS06G0170100|WAK63</text>
<text transform="translate(819.7 1032.3) rotate(5.7)" text-anchor="end" dy="0.35em">OS02G0623932|WAK13</text>
<text transform="translate(821.5 1016.8) rotate(7.8)" text-anchor="end" dy="0.35em">OS09G0471200|WAK80</text>
<text transform="translate(823.9 1001.4) rotate(9.8)" text-anchor="end" dy="0.35em">OS09G0471400|WAK84</text>
<text transform="translate(826.8 986.1) rotate(11.8)" text-anchor="end" dy="0.35em">OS06G0706600|WAK65</text>
<text transform="translate(830.3 970.9) rotate(13.8)" text-anchor="end" dy="0.35em">OS06G0705200|WAK64</text>
<text transform="translate(834.3 955.8) rotate(15.8)" text-anchor="end" dy="0.35em">OS04G0517700|WAK51</text>
<text transform="translate(838.8 940.9) rotate(17.9)" text-anchor="end" dy="0.35em">OS01G0364800|WAK7|WAK8</text>
<text transform="translate(843.9 926.1) rotate(19.9)" text-anchor="end" dy="0.35em">OS01G0364100|WAK5</text>
</g>
<g fill="none" stroke="#000" stroke-opacity="0.85" stroke-width="1.45"><circle cx="1265.5" cy="626.1" r="6.4"/><circle cx="1281.4" cy="626.6" r="6.4"/><circle cx="1297.3" cy="627.6" r="6.4"/><circle cx="1313.1" cy="629.2" r="6.4"/><circle cx="1328.8" cy="631.4" r="6.4"/><circle cx="1344.5" cy="634.1" r="6.4"/><circle cx="1360" cy="637.4" r="6.4"/><circle cx="1375.5" cy="641.2" r="6.4"/><circle cx="1390.8" cy="645.6" r="6.4"/><circle cx="1405.9" cy="650.5" r="6.4"/><circle cx="1420.8" cy="655.9" r="6.4"/><circle cx="1435.6" cy="661.9" r="6.4"/><circle cx="1450.1" cy="668.3" r="6.4"/><circle cx="1464.4" cy="675.3" r="6.4"/><circle cx="1478.4" cy="682.8" r="6.4"/><circle cx="1492.1" cy="690.8" r="6.4"/><circle cx="1505.6" cy="699.2" r="6.4"/><circle cx="1518.8" cy="708.1" r="6.4"/><circle cx="1531.6" cy="717.5" r="6.4"/><circle cx="1544.1" cy="727.3" r="6.4"/><circle cx="1556.2" cy="737.6" r="6.4"/><circle cx="1568" cy="748.3" r="6.4"/><circle cx="1579.4" cy="759.3" r="6.4"/><circle cx="1590.4" cy="770.8" r="6.4"/><circle cx="1601" cy="782.7" r="6.4"/><circle cx="1611.1" cy="794.9" r="6.4"/><circle cx="1620.8" cy="807.5" r="6.4"/><circle cx="1630.1" cy="820.4" r="6.4"/><circle cx="1638.9" cy="833.7" r="6.4"/><circle cx="1647.2" cy="847.2" r="6.4"/><circle cx="1655.1" cy="861" r="6.4"/><circle cx="1662.4" cy="875.1" r="6.4"/><circle cx="1669.3" cy="889.4" r="6.4"/><circle cx="1675.6" cy="904" r="6.4"/><circle cx="1681.5" cy="918.8" r="6.4"/><circle cx="1686.8" cy="933.8" r="6.4"/><circle cx="1691.5" cy="949" r="6.4"/><circle cx="1695.8" cy="964.3" r="6.4"/><circle cx="1699.4" cy="979.7" r="6.4"/><circle cx="1702.6" cy="995.3" r="6.4"/><circle cx="1705.2" cy="1011" r="6.4"/><circle cx="1707.2" cy="1026.8" r="6.4"/><circle cx="1708.7" cy="1042.6" r="6.4"/><circle cx="1709.6" cy="1058.5" r="6.4"/><circle cx="1710" cy="1074.4" r="6.4"/><circle cx="1709.8" cy="1090.2" r="6.4"/><circle cx="1709" cy="1106.1" r="6.4"/><circle cx="1707.7" cy="1122" r="6.4"/><circle cx="1705.8" cy="1137.7" r="6.4"/><circle cx="1703.3" cy="1153.5" r="6.4"/><circle cx="1700.3" cy="1169.1" r="6.4"/><circle cx="1696.8" cy="1184.6" r="6.4"/><circle cx="1692.7" cy="1199.9" r="6.4"/><circle cx="1688.1" cy="1215.1" r="6.4"/><circle cx="1682.9" cy="1230.2" r="6.4"/><circle cx="1677.3" cy="1245" r="6.4"/><circle cx="1671.1" cy="1259.6" r="6.4"/><circle cx="1664.3" cy="1274" r="6.4"/><circle cx="1657.1" cy="1288.2" r="6.4"/><circle cx="1649.4" cy="1302.1" r="6.4"/><circle cx="1641.2" cy="1315.7" r="6.4"/><circle cx="1632.5" cy="1329" r="6.4"/><circle cx="1623.4" cy="1342" r="6.4"/><circle cx="1613.8" cy="1354.7" r="6.4"/><circle cx="1603.7" cy="1367" r="6.4"/><circle cx="1593.3" cy="1379" r="6.4"/><circle cx="1582.4" cy="1390.6" r="6.4"/><circle cx="1571.1" cy="1401.8" r="6.4"/><circle cx="1559.4" cy="1412.6" r="6.4"/><circle cx="1547.4" cy="1423" r="6.4"/><circle cx="1535" cy="1432.9" r="6.4"/><circle cx="1522.3" cy="1442.4" r="6.4"/><circle cx="1509.2" cy="1451.4" r="6.4"/><circle cx="1495.8" cy="1460" r="6.4"/><circle cx="1482.1" cy="1468.1" r="6.4"/><circle cx="1468.2" cy="1475.7" r="6.4"/><circle cx="1454" cy="1482.8" r="6.4"/><circle cx="1439.5" cy="1489.4" r="6.4"/><circle cx="1424.8" cy="1495.5" r="6.4"/><circle cx="1409.9" cy="1501.1" r="6.4"/><circle cx="1394.9" cy="1506.1" r="6.4"/><circle cx="1379.6" cy="1510.7" r="6.4"/><circle cx="1364.2" cy="1514.6" r="6.4"/><circle cx="1348.7" cy="1518" r="6.4"/><circle cx="1333.1" cy="1520.9" r="6.4"/><circle cx="1317.3" cy="1523.2" r="6.4"/><circle cx="1301.5" cy="1525" r="6.4"/><circle cx="1285.7" cy="1526.2" r="6.4"/><circle cx="1269.8" cy="1526.8" r="6.4"/></g>
<g font-family="'Liberation Sans',Arial,sans-serif" font-size="61" font-weight="bold" fill="#000" text-anchor="middle">
<text transform="translate(621 687.5) scale(1.010 1)" font-size="58" dy="0.358em">A</text>
<text transform="translate(688 590) scale(0.910 1)" font-size="58" dy="0.358em">B</text>
<text transform="translate(720 546.5) scale(0.862 1)" font-size="58" dy="0.358em">C</text>
<text transform="translate(829.3 473.5) scale(0.935 1)" font-size="60" dy="0.358em">D</text>
<text transform="translate(1009 370) scale(0.807 1)" font-size="60" dy="0.358em">E</text>
<text transform="translate(1229.6 330) scale(0.827 1)" font-size="60" dy="0.358em">F</text>
<text transform="translate(1442 347) scale(0.912 1)" font-size="62" dy="0.358em">G</text>
<text transform="translate(1733.8 509) scale(1.013 1)" font-size="62" dy="0.358em">H</text>
<text transform="translate(1842 600.5) scale(1.092 1)" font-size="62" dy="0.358em">I</text>
<text transform="translate(1905 729) scale(0.748 1)" font-size="62" dy="0.358em">J</text>
<text transform="translate(1988.6 931) scale(0.848 1)" font-size="62" dy="0.358em">K</text>
<text transform="translate(2006 1140) scale(0.793 1)" font-size="62" dy="0.358em">L</text>
<text transform="translate(1967 1245.5) scale(1.181 1)" font-size="62" dy="0.358em" font-weight="normal" stroke="#000" stroke-width="2.2" stroke-linejoin="round">M</text>
<text transform="translate(1884 1467) scale(1.039 1)" font-size="62" dy="0.358em">N</text>
<text transform="translate(1746.6 1641.5) scale(0.984 1)" font-size="62" dy="0.358em" font-weight="normal" stroke="#000" stroke-width="1.3" stroke-linejoin="round">O</text>
<text transform="translate(1709.5 1679.5) scale(0.946 1)" font-size="62" dy="0.358em" font-weight="normal" stroke="#000" stroke-width="1.3" stroke-linejoin="round">P</text>
<text transform="translate(1576.2 1756.2) scale(1.001 1)" font-size="62" dy="0.358em" font-weight="normal" stroke="#000" stroke-width="1.3" stroke-linejoin="round">Q</text>
<text transform="translate(1342 1828.6) scale(0.906 1)" font-size="62" dy="0.358em">R</text>
<text transform="translate(1054 1800) scale(0.847 1)" font-size="62" dy="0.358em">S</text>
<text transform="translate(948.7 1768) scale(0.956 1)" font-size="62" dy="0.358em">T</text>
<text transform="translate(805.8 1669.8) scale(1.039 1)" font-size="62" dy="0.358em">U</text>
<text transform="translate(585.7 1420.4) scale(1.009 1)" font-size="62" dy="0.358em">V</text>
<text transform="translate(513.2 1053.5) scale(1.053 1)" font-size="62" dy="0.358em">W</text>
</g>
<g font-family="'Liberation Sans',Arial,sans-serif" font-size="21.7" fill="#222" text-anchor="end">
<text transform="translate(553.9 691) rotate(-37.5)" dy="0.35em">CCDR 1 Day</text>
<text transform="translate(517.1 670.9) rotate(-37.5)" dy="0.35em">CCDR 3 Day</text>
<text transform="translate(480.2 650.7) rotate(-37.5)" dy="0.35em">CCDR 5 Day</text>
<text transform="translate(443.4 630.6) rotate(-37.5)" dy="0.35em">MCR 1 Day</text>
<text transform="translate(406.5 610.5) rotate(-37.5)" dy="0.35em">MCR 3 Day</text>
<text transform="translate(369.6 590.3) rotate(-37.5)" dy="0.35em">MCR 5 Day</text>
</g>
<g>
<rect x="36.5" y="357.5" width="175" height="889" fill="#fff" stroke="#E4E4E4" stroke-width="1.5"/>
<rect x="37" y="1245" width="174" height="3.5" fill="#CFCFCF"/>
<text x="49.5" y="399.5" font-family="'Liberation Sans',Arial,sans-serif" font-size="36.5" font-weight="bold" fill="#000">DEG</text>
<rect x="44" y="419" width="161" height="2.2" fill="#555"/>
<rect x="49.5" y="425.5" width="74" height="74.3" fill="#E090E8"/>
<text x="136" y="475" font-family="'Liberation Sans',Arial,sans-serif" font-size="36" fill="#111">-2</text>
<rect x="49.5" y="499.5" width="74" height="74.3" fill="#CA82EA"/>
<text x="136" y="549" font-family="'Liberation Sans',Arial,sans-serif" font-size="36" fill="#111">-1.6</text>
<rect x="49.5" y="573.5" width="74" height="74.3" fill="#B373ED"/>
<text x="136" y="623" font-family="'Liberation Sans',Arial,sans-serif" font-size="36" fill="#111">-1.2</text>
<rect x="49.5" y="647.5" width="74" height="74.3" fill="#9D65EF"/>
<text x="136" y="697" font-family="'Liberation Sans',Arial,sans-serif" font-size="36" fill="#111">-0.8</text>
<rect x="49.5" y="721.5" width="74" height="74.3" fill="#8656F1"/>
<text x="136" y="771" font-family="'Liberation Sans',Arial,sans-serif" font-size="36" fill="#111">-0.4</text>
<rect x="49.5" y="795.5" width="74" height="74.3" fill="#7048F4"/>
<text x="136" y="845" font-family="'Liberation Sans',Arial,sans-serif" font-size="36" fill="#111">0</text>
<rect x="49.5" y="869.5" width="74" height="74.3" fill="#5A3AF6"/>
<text x="136" y="919" font-family="'Liberation Sans',Arial,sans-serif" font-size="36" fill="#111">0.4</text>
<rect x="49.5" y="943.5" width="74" height="74.3" fill="#432BF8"/>
<text x="136" y="993" font-family="'Liberation Sans',Arial,sans-serif" font-size="36" fill="#111">0.8</text>
<rect x="49.5" y="1017.5" width="74" height="74.3" fill="#2D1DFA"/>
<text x="136" y="1067" font-family="'Liberation Sans',Arial,sans-serif" font-size="36" fill="#111">1.2</text>
<rect x="49.5" y="1091.5" width="74" height="74.3" fill="#160EFD"/>
<text x="136" y="1141" font-family="'Liberation Sans',Arial,sans-serif" font-size="36" fill="#111">1.6</text>
<rect x="49.5" y="1165.5" width="74" height="74.3" fill="#0000FF"/>
<text x="136" y="1215" font-family="'Liberation Sans',Arial,sans-serif" font-size="36" fill="#111">2</text>
</g>
<path d="M12 21H2310V2132H12ZM20 28V2125H2303V28Z" fill="#000" fill-rule="evenodd"/>
</svg>
</body></html>
